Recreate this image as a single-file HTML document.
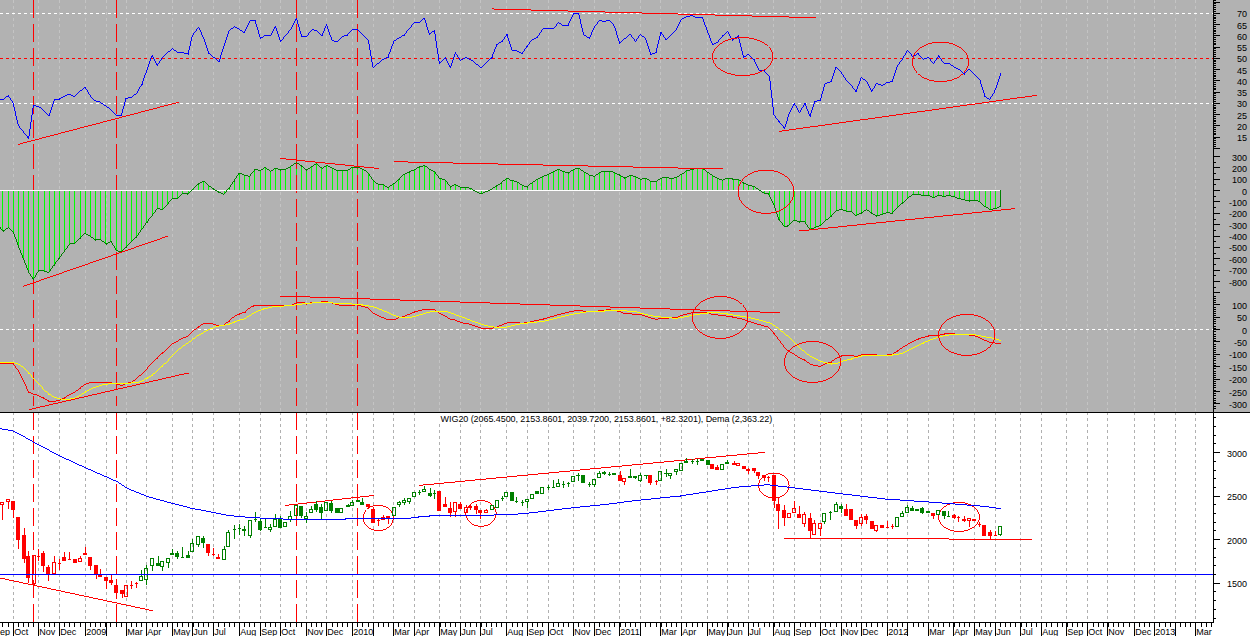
<!DOCTYPE html><html><head><meta charset="utf-8"><title>chart</title>
<style>html,body{margin:0;padding:0;background:#fff;overflow:hidden}svg{display:block}text{font-family:"Liberation Sans",sans-serif;font-size:9px;fill:#000}</style></head><body>
<svg width="1250" height="636" viewBox="0 0 1250 636" shape-rendering="crispEdges">
<rect x="0" y="0" width="1250" height="636" fill="#fff"/>
<rect x="0" y="0" width="1250" height="412" fill="#b2b2b2"/>
<g stroke="#c4c4c4" stroke-width="1" stroke-dasharray="3 3">
<line x1="13.5" y1="0" x2="13.5" y2="412"/>
<line x1="38.5" y1="0" x2="38.5" y2="412"/>
<line x1="59.5" y1="0" x2="59.5" y2="412"/>
<line x1="85.5" y1="0" x2="85.5" y2="412"/>
<line x1="106.5" y1="0" x2="106.5" y2="412"/>
<line x1="126.5" y1="0" x2="126.5" y2="412"/>
<line x1="146.5" y1="0" x2="146.5" y2="412"/>
<line x1="172.5" y1="0" x2="172.5" y2="412"/>
<line x1="192.5" y1="0" x2="192.5" y2="412"/>
<line x1="213.5" y1="0" x2="213.5" y2="412"/>
<line x1="239.5" y1="0" x2="239.5" y2="412"/>
<line x1="260.5" y1="0" x2="260.5" y2="412"/>
<line x1="280.5" y1="0" x2="280.5" y2="412"/>
<line x1="306.5" y1="0" x2="306.5" y2="412"/>
<line x1="326.5" y1="0" x2="326.5" y2="412"/>
<line x1="352.5" y1="0" x2="352.5" y2="412"/>
<line x1="373.5" y1="0" x2="373.5" y2="412"/>
<line x1="393.5" y1="0" x2="393.5" y2="412"/>
<line x1="414.5" y1="0" x2="414.5" y2="412"/>
<line x1="439.5" y1="0" x2="439.5" y2="412"/>
<line x1="460.5" y1="0" x2="460.5" y2="412"/>
<line x1="480.5" y1="0" x2="480.5" y2="412"/>
<line x1="506.5" y1="0" x2="506.5" y2="412"/>
<line x1="527.5" y1="0" x2="527.5" y2="412"/>
<line x1="548.5" y1="0" x2="548.5" y2="412"/>
<line x1="573.5" y1="0" x2="573.5" y2="412"/>
<line x1="594.5" y1="0" x2="594.5" y2="412"/>
<line x1="619.5" y1="0" x2="619.5" y2="412"/>
<line x1="640.5" y1="0" x2="640.5" y2="412"/>
<line x1="660.5" y1="0" x2="660.5" y2="412"/>
<line x1="681.5" y1="0" x2="681.5" y2="412"/>
<line x1="707.5" y1="0" x2="707.5" y2="412"/>
<line x1="727.5" y1="0" x2="727.5" y2="412"/>
<line x1="748.5" y1="0" x2="748.5" y2="412"/>
<line x1="773.5" y1="0" x2="773.5" y2="412"/>
<line x1="794.5" y1="0" x2="794.5" y2="412"/>
<line x1="820.5" y1="0" x2="820.5" y2="412"/>
<line x1="841.5" y1="0" x2="841.5" y2="412"/>
<line x1="861.5" y1="0" x2="861.5" y2="412"/>
<line x1="887.5" y1="0" x2="887.5" y2="412"/>
<line x1="907.5" y1="0" x2="907.5" y2="412"/>
<line x1="928.5" y1="0" x2="928.5" y2="412"/>
<line x1="953.5" y1="0" x2="953.5" y2="412"/>
<line x1="974.5" y1="0" x2="974.5" y2="412"/>
<line x1="995.5" y1="0" x2="995.5" y2="412"/>
<line x1="1020.5" y1="0" x2="1020.5" y2="412"/>
<line x1="1041.5" y1="0" x2="1041.5" y2="412"/>
<line x1="1066.5" y1="0" x2="1066.5" y2="412"/>
<line x1="1087.5" y1="0" x2="1087.5" y2="412"/>
<line x1="1107.5" y1="0" x2="1107.5" y2="412"/>
<line x1="1134.5" y1="0" x2="1134.5" y2="412"/>
<line x1="1154.5" y1="0" x2="1154.5" y2="412"/>
<line x1="1175.5" y1="0" x2="1175.5" y2="412"/>
<line x1="1195.5" y1="0" x2="1195.5" y2="412"/>
</g>
<g stroke="#b0b0b0" stroke-width="1" stroke-dasharray="3 3">
<line x1="13.5" y1="412" x2="13.5" y2="622"/>
<line x1="38.5" y1="412" x2="38.5" y2="622"/>
<line x1="59.5" y1="412" x2="59.5" y2="622"/>
<line x1="85.5" y1="412" x2="85.5" y2="622"/>
<line x1="106.5" y1="412" x2="106.5" y2="622"/>
<line x1="126.5" y1="412" x2="126.5" y2="622"/>
<line x1="146.5" y1="412" x2="146.5" y2="622"/>
<line x1="172.5" y1="412" x2="172.5" y2="622"/>
<line x1="192.5" y1="412" x2="192.5" y2="622"/>
<line x1="213.5" y1="412" x2="213.5" y2="622"/>
<line x1="239.5" y1="412" x2="239.5" y2="622"/>
<line x1="260.5" y1="412" x2="260.5" y2="622"/>
<line x1="280.5" y1="412" x2="280.5" y2="622"/>
<line x1="306.5" y1="412" x2="306.5" y2="622"/>
<line x1="326.5" y1="412" x2="326.5" y2="622"/>
<line x1="352.5" y1="412" x2="352.5" y2="622"/>
<line x1="373.5" y1="412" x2="373.5" y2="622"/>
<line x1="393.5" y1="412" x2="393.5" y2="622"/>
<line x1="414.5" y1="412" x2="414.5" y2="622"/>
<line x1="439.5" y1="412" x2="439.5" y2="622"/>
<line x1="460.5" y1="412" x2="460.5" y2="622"/>
<line x1="480.5" y1="412" x2="480.5" y2="622"/>
<line x1="506.5" y1="412" x2="506.5" y2="622"/>
<line x1="527.5" y1="412" x2="527.5" y2="622"/>
<line x1="548.5" y1="412" x2="548.5" y2="622"/>
<line x1="573.5" y1="412" x2="573.5" y2="622"/>
<line x1="594.5" y1="412" x2="594.5" y2="622"/>
<line x1="619.5" y1="412" x2="619.5" y2="622"/>
<line x1="640.5" y1="412" x2="640.5" y2="622"/>
<line x1="660.5" y1="412" x2="660.5" y2="622"/>
<line x1="681.5" y1="412" x2="681.5" y2="622"/>
<line x1="707.5" y1="412" x2="707.5" y2="622"/>
<line x1="727.5" y1="412" x2="727.5" y2="622"/>
<line x1="748.5" y1="412" x2="748.5" y2="622"/>
<line x1="773.5" y1="412" x2="773.5" y2="622"/>
<line x1="794.5" y1="412" x2="794.5" y2="622"/>
<line x1="820.5" y1="412" x2="820.5" y2="622"/>
<line x1="841.5" y1="412" x2="841.5" y2="622"/>
<line x1="861.5" y1="412" x2="861.5" y2="622"/>
<line x1="887.5" y1="412" x2="887.5" y2="622"/>
<line x1="907.5" y1="412" x2="907.5" y2="622"/>
<line x1="928.5" y1="412" x2="928.5" y2="622"/>
<line x1="953.5" y1="412" x2="953.5" y2="622"/>
<line x1="974.5" y1="412" x2="974.5" y2="622"/>
<line x1="995.5" y1="412" x2="995.5" y2="622"/>
<line x1="1020.5" y1="412" x2="1020.5" y2="622"/>
<line x1="1041.5" y1="412" x2="1041.5" y2="622"/>
<line x1="1066.5" y1="412" x2="1066.5" y2="622"/>
<line x1="1087.5" y1="412" x2="1087.5" y2="622"/>
<line x1="1107.5" y1="412" x2="1107.5" y2="622"/>
<line x1="1134.5" y1="412" x2="1134.5" y2="622"/>
<line x1="1154.5" y1="412" x2="1154.5" y2="622"/>
<line x1="1175.5" y1="412" x2="1175.5" y2="622"/>
<line x1="1195.5" y1="412" x2="1195.5" y2="622"/>
</g>
<line x1="0" y1="13.5" x2="1213" y2="13.5" stroke="#fff" stroke-width="1" stroke-dasharray="3 3"/>
<line x1="0" y1="58.5" x2="1213" y2="58.5" stroke="#ff0000" stroke-width="1" stroke-dasharray="3 3"/>
<line x1="0" y1="103.5" x2="1213" y2="103.5" stroke="#fff" stroke-width="1" stroke-dasharray="3 3"/>
<line x1="0" y1="329.5" x2="1213" y2="329.5" stroke="#fff" stroke-width="1" stroke-dasharray="3 3"/>
<g stroke="#ff0000" stroke-width="1">
<line x1="33.5" y1="0" x2="33.5" y2="18"/>
<line x1="33.5" y1="24" x2="33.5" y2="42"/>
<line x1="33.5" y1="48" x2="33.5" y2="66"/>
<line x1="33.5" y1="72" x2="33.5" y2="90"/>
<line x1="33.5" y1="96" x2="33.5" y2="114"/>
<line x1="33.5" y1="120" x2="33.5" y2="138"/>
<line x1="33.5" y1="144" x2="33.5" y2="151"/>
<line x1="33.5" y1="151" x2="33.5" y2="169"/>
<line x1="33.5" y1="175" x2="33.5" y2="190"/>
<line x1="33.5" y1="190" x2="33.5" y2="198"/>
<line x1="33.5" y1="204" x2="33.5" y2="222"/>
<line x1="33.5" y1="228" x2="33.5" y2="246"/>
<line x1="33.5" y1="252" x2="33.5" y2="270"/>
<line x1="33.5" y1="276" x2="33.5" y2="294"/>
<line x1="33.5" y1="300" x2="33.5" y2="318"/>
<line x1="33.5" y1="324" x2="33.5" y2="342"/>
<line x1="33.5" y1="348" x2="33.5" y2="366"/>
<line x1="33.5" y1="372" x2="33.5" y2="390"/>
<line x1="33.5" y1="396" x2="33.5" y2="406"/>
<line x1="33.5" y1="413" x2="33.5" y2="430"/>
<line x1="33.5" y1="436" x2="33.5" y2="454"/>
<line x1="33.5" y1="460" x2="33.5" y2="478"/>
<line x1="33.5" y1="484" x2="33.5" y2="502"/>
<line x1="33.5" y1="508" x2="33.5" y2="526"/>
<line x1="33.5" y1="532" x2="33.5" y2="550"/>
<line x1="33.5" y1="556" x2="33.5" y2="574"/>
<line x1="33.5" y1="580" x2="33.5" y2="598"/>
<line x1="33.5" y1="604" x2="33.5" y2="622"/>
</g>
<g stroke="#ff0000" stroke-width="1">
<line x1="116.5" y1="0" x2="116.5" y2="18"/>
<line x1="116.5" y1="24" x2="116.5" y2="42"/>
<line x1="116.5" y1="48" x2="116.5" y2="66"/>
<line x1="116.5" y1="72" x2="116.5" y2="90"/>
<line x1="116.5" y1="96" x2="116.5" y2="114"/>
<line x1="116.5" y1="120" x2="116.5" y2="138"/>
<line x1="116.5" y1="144" x2="116.5" y2="151"/>
<line x1="116.5" y1="151" x2="116.5" y2="169"/>
<line x1="116.5" y1="175" x2="116.5" y2="190"/>
<line x1="116.5" y1="190" x2="116.5" y2="198"/>
<line x1="116.5" y1="204" x2="116.5" y2="222"/>
<line x1="116.5" y1="228" x2="116.5" y2="246"/>
<line x1="116.5" y1="252" x2="116.5" y2="270"/>
<line x1="116.5" y1="276" x2="116.5" y2="294"/>
<line x1="116.5" y1="300" x2="116.5" y2="318"/>
<line x1="116.5" y1="324" x2="116.5" y2="342"/>
<line x1="116.5" y1="348" x2="116.5" y2="366"/>
<line x1="116.5" y1="372" x2="116.5" y2="390"/>
<line x1="116.5" y1="396" x2="116.5" y2="406"/>
<line x1="116.5" y1="413" x2="116.5" y2="430"/>
<line x1="116.5" y1="436" x2="116.5" y2="454"/>
<line x1="116.5" y1="460" x2="116.5" y2="478"/>
<line x1="116.5" y1="484" x2="116.5" y2="502"/>
<line x1="116.5" y1="508" x2="116.5" y2="526"/>
<line x1="116.5" y1="532" x2="116.5" y2="550"/>
<line x1="116.5" y1="556" x2="116.5" y2="574"/>
<line x1="116.5" y1="580" x2="116.5" y2="598"/>
<line x1="116.5" y1="604" x2="116.5" y2="622"/>
</g>
<g stroke="#00ff00" stroke-width="1">
<line x1="2.5" y1="190.5" x2="2.5" y2="231.0"/>
<line x1="8.5" y1="190.5" x2="8.5" y2="227.8"/>
<line x1="13.5" y1="190.5" x2="13.5" y2="232.3"/>
<line x1="18.5" y1="190.5" x2="18.5" y2="246.1"/>
<line x1="23.5" y1="190.5" x2="23.5" y2="259.4"/>
<line x1="28.5" y1="190.5" x2="28.5" y2="272.2"/>
<line x1="33.5" y1="190.5" x2="33.5" y2="278.6"/>
<line x1="38.5" y1="190.5" x2="38.5" y2="270.8"/>
<line x1="44.5" y1="190.5" x2="44.5" y2="271.0"/>
<line x1="49.5" y1="190.5" x2="49.5" y2="271.7"/>
<line x1="54.5" y1="190.5" x2="54.5" y2="264.4"/>
<line x1="59.5" y1="190.5" x2="59.5" y2="257.5"/>
<line x1="64.5" y1="190.5" x2="64.5" y2="250.6"/>
<line x1="69.5" y1="190.5" x2="69.5" y2="244.0"/>
<line x1="74.5" y1="190.5" x2="74.5" y2="242.7"/>
<line x1="80.5" y1="190.5" x2="80.5" y2="238.3"/>
<line x1="85.5" y1="190.5" x2="85.5" y2="233.6"/>
<line x1="90.5" y1="190.5" x2="90.5" y2="236.4"/>
<line x1="95.5" y1="190.5" x2="95.5" y2="240.0"/>
<line x1="100.5" y1="190.5" x2="100.5" y2="239.5"/>
<line x1="105.5" y1="190.5" x2="105.5" y2="243.9"/>
<line x1="110.5" y1="190.5" x2="110.5" y2="241.4"/>
<line x1="116.5" y1="190.5" x2="116.5" y2="249.9"/>
<line x1="121.5" y1="190.5" x2="121.5" y2="252.0"/>
<line x1="126.5" y1="190.5" x2="126.5" y2="247.0"/>
<line x1="131.5" y1="190.5" x2="131.5" y2="241.1"/>
<line x1="136.5" y1="190.5" x2="136.5" y2="236.9"/>
<line x1="141.5" y1="190.5" x2="141.5" y2="229.3"/>
<line x1="146.5" y1="190.5" x2="146.5" y2="222.0"/>
<line x1="152.5" y1="190.5" x2="152.5" y2="215.4"/>
<line x1="157.5" y1="190.5" x2="157.5" y2="208.8"/>
<line x1="162.5" y1="190.5" x2="162.5" y2="209.4"/>
<line x1="167.5" y1="190.5" x2="167.5" y2="204.1"/>
<line x1="172.5" y1="190.5" x2="172.5" y2="198.6"/>
<line x1="177.5" y1="190.5" x2="177.5" y2="197.8"/>
<line x1="182.5" y1="190.5" x2="182.5" y2="193.6"/>
<line x1="188.5" y1="190.5" x2="188.5" y2="193.5"/>
<line x1="193.5" y1="190.5" x2="193.5" y2="188.4"/>
<line x1="198.5" y1="190.5" x2="198.5" y2="183.8"/>
<line x1="203.5" y1="190.5" x2="203.5" y2="181.1"/>
<line x1="208.5" y1="190.5" x2="208.5" y2="185.5"/>
<line x1="213.5" y1="190.5" x2="213.5" y2="189.1"/>
<line x1="218.5" y1="190.5" x2="218.5" y2="192.2"/>
<line x1="224.5" y1="190.5" x2="224.5" y2="193.8"/>
<line x1="229.5" y1="190.5" x2="229.5" y2="187.7"/>
<line x1="234.5" y1="190.5" x2="234.5" y2="180.4"/>
<line x1="239.5" y1="190.5" x2="239.5" y2="173.1"/>
<line x1="244.5" y1="190.5" x2="244.5" y2="175.1"/>
<line x1="249.5" y1="190.5" x2="249.5" y2="175.9"/>
<line x1="254.5" y1="190.5" x2="254.5" y2="169.5"/>
<line x1="260.5" y1="190.5" x2="260.5" y2="170.5"/>
<line x1="265.5" y1="190.5" x2="265.5" y2="167.5"/>
<line x1="270.5" y1="190.5" x2="270.5" y2="171.4"/>
<line x1="275.5" y1="190.5" x2="275.5" y2="168.0"/>
<line x1="280.5" y1="190.5" x2="280.5" y2="170.0"/>
<line x1="285.5" y1="190.5" x2="285.5" y2="169.3"/>
<line x1="290.5" y1="190.5" x2="290.5" y2="166.2"/>
<line x1="296.5" y1="190.5" x2="296.5" y2="162.8"/>
<line x1="301.5" y1="190.5" x2="301.5" y2="165.8"/>
<line x1="306.5" y1="190.5" x2="306.5" y2="169.8"/>
<line x1="311.5" y1="190.5" x2="311.5" y2="166.9"/>
<line x1="316.5" y1="190.5" x2="316.5" y2="163.7"/>
<line x1="321.5" y1="190.5" x2="321.5" y2="168.2"/>
<line x1="326.5" y1="190.5" x2="326.5" y2="165.6"/>
<line x1="332.5" y1="190.5" x2="332.5" y2="168.0"/>
<line x1="337.5" y1="190.5" x2="337.5" y2="170.4"/>
<line x1="342.5" y1="190.5" x2="342.5" y2="170.4"/>
<line x1="347.5" y1="190.5" x2="347.5" y2="170.1"/>
<line x1="352.5" y1="190.5" x2="352.5" y2="167.4"/>
<line x1="357.5" y1="190.5" x2="357.5" y2="167.2"/>
<line x1="362.5" y1="190.5" x2="362.5" y2="169.6"/>
<line x1="368.5" y1="190.5" x2="368.5" y2="173.0"/>
<line x1="373.5" y1="190.5" x2="373.5" y2="180.2"/>
<line x1="378.5" y1="190.5" x2="378.5" y2="184.4"/>
<line x1="383.5" y1="190.5" x2="383.5" y2="184.7"/>
<line x1="388.5" y1="190.5" x2="388.5" y2="187.2"/>
<line x1="393.5" y1="190.5" x2="393.5" y2="183.7"/>
<line x1="398.5" y1="190.5" x2="398.5" y2="179.1"/>
<line x1="404.5" y1="190.5" x2="404.5" y2="174.4"/>
<line x1="409.5" y1="190.5" x2="409.5" y2="171.9"/>
<line x1="414.5" y1="190.5" x2="414.5" y2="169.6"/>
<line x1="419.5" y1="190.5" x2="419.5" y2="167.0"/>
<line x1="424.5" y1="190.5" x2="424.5" y2="165.6"/>
<line x1="429.5" y1="190.5" x2="429.5" y2="169.2"/>
<line x1="434.5" y1="190.5" x2="434.5" y2="172.3"/>
<line x1="440.5" y1="190.5" x2="440.5" y2="178.6"/>
<line x1="445.5" y1="190.5" x2="445.5" y2="179.9"/>
<line x1="450.5" y1="190.5" x2="450.5" y2="186.9"/>
<line x1="455.5" y1="190.5" x2="455.5" y2="184.5"/>
<line x1="460.5" y1="190.5" x2="460.5" y2="187.4"/>
<line x1="465.5" y1="190.5" x2="465.5" y2="187.4"/>
<line x1="470.5" y1="190.5" x2="470.5" y2="188.6"/>
<line x1="481.5" y1="190.5" x2="481.5" y2="193.5"/>
<line x1="491.5" y1="190.5" x2="491.5" y2="189.2"/>
<line x1="496.5" y1="190.5" x2="496.5" y2="185.6"/>
<line x1="501.5" y1="190.5" x2="501.5" y2="182.6"/>
<line x1="506.5" y1="190.5" x2="506.5" y2="178.2"/>
<line x1="512.5" y1="190.5" x2="512.5" y2="180.7"/>
<line x1="517.5" y1="190.5" x2="517.5" y2="182.0"/>
<line x1="522.5" y1="190.5" x2="522.5" y2="185.1"/>
<line x1="527.5" y1="190.5" x2="527.5" y2="186.6"/>
<line x1="532.5" y1="190.5" x2="532.5" y2="182.2"/>
<line x1="537.5" y1="190.5" x2="537.5" y2="179.2"/>
<line x1="542.5" y1="190.5" x2="542.5" y2="176.6"/>
<line x1="548.5" y1="190.5" x2="548.5" y2="174.5"/>
<line x1="553.5" y1="190.5" x2="553.5" y2="171.6"/>
<line x1="558.5" y1="190.5" x2="558.5" y2="169.7"/>
<line x1="563.5" y1="190.5" x2="563.5" y2="171.6"/>
<line x1="568.5" y1="190.5" x2="568.5" y2="172.6"/>
<line x1="573.5" y1="190.5" x2="573.5" y2="169.5"/>
<line x1="578.5" y1="190.5" x2="578.5" y2="168.2"/>
<line x1="584.5" y1="190.5" x2="584.5" y2="171.9"/>
<line x1="589.5" y1="190.5" x2="589.5" y2="174.9"/>
<line x1="594.5" y1="190.5" x2="594.5" y2="176.4"/>
<line x1="599.5" y1="190.5" x2="599.5" y2="172.6"/>
<line x1="604.5" y1="190.5" x2="604.5" y2="171.0"/>
<line x1="609.5" y1="190.5" x2="609.5" y2="171.1"/>
<line x1="614.5" y1="190.5" x2="614.5" y2="172.8"/>
<line x1="620.5" y1="190.5" x2="620.5" y2="175.3"/>
<line x1="625.5" y1="190.5" x2="625.5" y2="177.7"/>
<line x1="630.5" y1="190.5" x2="630.5" y2="175.5"/>
<line x1="635.5" y1="190.5" x2="635.5" y2="176.6"/>
<line x1="640.5" y1="190.5" x2="640.5" y2="179.3"/>
<line x1="645.5" y1="190.5" x2="645.5" y2="178.1"/>
<line x1="650.5" y1="190.5" x2="650.5" y2="181.3"/>
<line x1="656.5" y1="190.5" x2="656.5" y2="181.4"/>
<line x1="661.5" y1="190.5" x2="661.5" y2="178.4"/>
<line x1="666.5" y1="190.5" x2="666.5" y2="177.1"/>
<line x1="671.5" y1="190.5" x2="671.5" y2="178.5"/>
<line x1="676.5" y1="190.5" x2="676.5" y2="177.1"/>
<line x1="681.5" y1="190.5" x2="681.5" y2="174.3"/>
<line x1="686.5" y1="190.5" x2="686.5" y2="170.7"/>
<line x1="692.5" y1="190.5" x2="692.5" y2="169.4"/>
<line x1="697.5" y1="190.5" x2="697.5" y2="168.4"/>
<line x1="702.5" y1="190.5" x2="702.5" y2="168.4"/>
<line x1="707.5" y1="190.5" x2="707.5" y2="172.0"/>
<line x1="712.5" y1="190.5" x2="712.5" y2="175.7"/>
<line x1="717.5" y1="190.5" x2="717.5" y2="178.2"/>
<line x1="722.5" y1="190.5" x2="722.5" y2="180.2"/>
<line x1="728.5" y1="190.5" x2="728.5" y2="178.1"/>
<line x1="733.5" y1="190.5" x2="733.5" y2="179.0"/>
<line x1="738.5" y1="190.5" x2="738.5" y2="179.4"/>
<line x1="743.5" y1="190.5" x2="743.5" y2="182.9"/>
<line x1="748.5" y1="190.5" x2="748.5" y2="185.1"/>
<line x1="753.5" y1="190.5" x2="753.5" y2="186.5"/>
<line x1="764.5" y1="190.5" x2="764.5" y2="193.0"/>
<line x1="769.5" y1="190.5" x2="769.5" y2="195.3"/>
<line x1="774.5" y1="190.5" x2="774.5" y2="205.9"/>
<line x1="779.5" y1="190.5" x2="779.5" y2="220.2"/>
<line x1="784.5" y1="190.5" x2="784.5" y2="226.0"/>
<line x1="789.5" y1="190.5" x2="789.5" y2="224.0"/>
<line x1="794.5" y1="190.5" x2="794.5" y2="220.2"/>
<line x1="800.5" y1="190.5" x2="800.5" y2="221.9"/>
<line x1="805.5" y1="190.5" x2="805.5" y2="222.2"/>
<line x1="810.5" y1="190.5" x2="810.5" y2="229.5"/>
<line x1="815.5" y1="190.5" x2="815.5" y2="227.2"/>
<line x1="820.5" y1="190.5" x2="820.5" y2="225.2"/>
<line x1="825.5" y1="190.5" x2="825.5" y2="220.5"/>
<line x1="830.5" y1="190.5" x2="830.5" y2="216.7"/>
<line x1="836.5" y1="190.5" x2="836.5" y2="210.6"/>
<line x1="841.5" y1="190.5" x2="841.5" y2="209.4"/>
<line x1="846.5" y1="190.5" x2="846.5" y2="211.0"/>
<line x1="851.5" y1="190.5" x2="851.5" y2="211.9"/>
<line x1="856.5" y1="190.5" x2="856.5" y2="215.1"/>
<line x1="861.5" y1="190.5" x2="861.5" y2="212.8"/>
<line x1="866.5" y1="190.5" x2="866.5" y2="209.8"/>
<line x1="871.5" y1="190.5" x2="871.5" y2="213.2"/>
<line x1="877.5" y1="190.5" x2="877.5" y2="215.8"/>
<line x1="882.5" y1="190.5" x2="882.5" y2="214.3"/>
<line x1="887.5" y1="190.5" x2="887.5" y2="212.4"/>
<line x1="892.5" y1="190.5" x2="892.5" y2="212.8"/>
<line x1="897.5" y1="190.5" x2="897.5" y2="207.3"/>
<line x1="902.5" y1="190.5" x2="902.5" y2="202.6"/>
<line x1="907.5" y1="190.5" x2="907.5" y2="198.1"/>
<line x1="913.5" y1="190.5" x2="913.5" y2="194.6"/>
<line x1="918.5" y1="190.5" x2="918.5" y2="194.5"/>
<line x1="923.5" y1="190.5" x2="923.5" y2="195.4"/>
<line x1="928.5" y1="190.5" x2="928.5" y2="195.7"/>
<line x1="933.5" y1="190.5" x2="933.5" y2="197.4"/>
<line x1="938.5" y1="190.5" x2="938.5" y2="195.4"/>
<line x1="943.5" y1="190.5" x2="943.5" y2="196.4"/>
<line x1="949.5" y1="190.5" x2="949.5" y2="195.4"/>
<line x1="954.5" y1="190.5" x2="954.5" y2="196.7"/>
<line x1="959.5" y1="190.5" x2="959.5" y2="198.7"/>
<line x1="964.5" y1="190.5" x2="964.5" y2="199.8"/>
<line x1="969.5" y1="190.5" x2="969.5" y2="200.9"/>
<line x1="974.5" y1="190.5" x2="974.5" y2="200.1"/>
<line x1="979.5" y1="190.5" x2="979.5" y2="201.9"/>
<line x1="985.5" y1="190.5" x2="985.5" y2="206.5"/>
<line x1="990.5" y1="190.5" x2="990.5" y2="209.6"/>
<line x1="995.5" y1="190.5" x2="995.5" y2="208.6"/>
<line x1="1000.5" y1="190.5" x2="1000.5" y2="206.0"/>
</g>
<g stroke="#ff0000" stroke-width="1">
<line x1="296.5" y1="0" x2="296.5" y2="18"/>
<line x1="296.5" y1="24" x2="296.5" y2="42"/>
<line x1="296.5" y1="48" x2="296.5" y2="66"/>
<line x1="296.5" y1="72" x2="296.5" y2="90"/>
<line x1="296.5" y1="96" x2="296.5" y2="114"/>
<line x1="296.5" y1="120" x2="296.5" y2="138"/>
<line x1="296.5" y1="144" x2="296.5" y2="151"/>
<line x1="296.5" y1="151" x2="296.5" y2="169"/>
<line x1="296.5" y1="175" x2="296.5" y2="193"/>
<line x1="296.5" y1="199" x2="296.5" y2="217"/>
<line x1="296.5" y1="223" x2="296.5" y2="241"/>
<line x1="296.5" y1="247" x2="296.5" y2="265"/>
<line x1="296.5" y1="271" x2="296.5" y2="289"/>
<line x1="296.5" y1="292" x2="296.5" y2="310"/>
<line x1="296.5" y1="316" x2="296.5" y2="334"/>
<line x1="296.5" y1="340" x2="296.5" y2="358"/>
<line x1="296.5" y1="364" x2="296.5" y2="382"/>
<line x1="296.5" y1="388" x2="296.5" y2="406"/>
<line x1="296.5" y1="413" x2="296.5" y2="430"/>
<line x1="296.5" y1="436" x2="296.5" y2="454"/>
<line x1="296.5" y1="460" x2="296.5" y2="478"/>
<line x1="296.5" y1="484" x2="296.5" y2="502"/>
<line x1="296.5" y1="508" x2="296.5" y2="526"/>
<line x1="296.5" y1="532" x2="296.5" y2="550"/>
<line x1="296.5" y1="556" x2="296.5" y2="574"/>
<line x1="296.5" y1="580" x2="296.5" y2="598"/>
<line x1="296.5" y1="604" x2="296.5" y2="622"/>
</g>
<g stroke="#ff0000" stroke-width="1">
<line x1="357.5" y1="0" x2="357.5" y2="18"/>
<line x1="357.5" y1="24" x2="357.5" y2="42"/>
<line x1="357.5" y1="48" x2="357.5" y2="66"/>
<line x1="357.5" y1="72" x2="357.5" y2="90"/>
<line x1="357.5" y1="96" x2="357.5" y2="114"/>
<line x1="357.5" y1="120" x2="357.5" y2="138"/>
<line x1="357.5" y1="144" x2="357.5" y2="151"/>
<line x1="357.5" y1="151" x2="357.5" y2="169"/>
<line x1="357.5" y1="175" x2="357.5" y2="193"/>
<line x1="357.5" y1="199" x2="357.5" y2="217"/>
<line x1="357.5" y1="223" x2="357.5" y2="241"/>
<line x1="357.5" y1="247" x2="357.5" y2="265"/>
<line x1="357.5" y1="271" x2="357.5" y2="289"/>
<line x1="357.5" y1="292" x2="357.5" y2="310"/>
<line x1="357.5" y1="316" x2="357.5" y2="334"/>
<line x1="357.5" y1="340" x2="357.5" y2="358"/>
<line x1="357.5" y1="364" x2="357.5" y2="382"/>
<line x1="357.5" y1="388" x2="357.5" y2="406"/>
<line x1="357.5" y1="413" x2="357.5" y2="430"/>
<line x1="357.5" y1="436" x2="357.5" y2="454"/>
<line x1="357.5" y1="460" x2="357.5" y2="478"/>
<line x1="357.5" y1="484" x2="357.5" y2="502"/>
<line x1="357.5" y1="508" x2="357.5" y2="526"/>
<line x1="357.5" y1="532" x2="357.5" y2="550"/>
<line x1="357.5" y1="556" x2="357.5" y2="574"/>
<line x1="357.5" y1="580" x2="357.5" y2="598"/>
<line x1="357.5" y1="604" x2="357.5" y2="622"/>
</g>
<line x1="0" y1="190.5" x2="1001" y2="190.5" stroke="#fff" stroke-width="1"/>
<path fill="none" stroke="#008000" stroke-width="1" d="M965 200.5h13M909 196.5h2M930 196.5h2M935 196.5h2M942 196.5h4M951 196.5h4M146 222.5h2M901 203.5h2M264 167.5h2M288 167.5h2M320 167.5h2M330 167.5h2M351 167.5h9M417 167.5h3M38 270.5h6M217 191.5h2M475 191.5h2M485 191.5h3M387 187.5h2M460 187.5h9M493 187.5h2M503 180.5h2M510 180.5h4M739 180.5h2M921 195.5h9M937 195.5h5M946 195.5h5M125 247.5h2M398 179.5h2M442 179.5h3M536 179.5h2M640 179.5h2M647 179.5h2M658 179.5h2M719 179.5h3M723 179.5h2M732 179.5h7M238 173.5h4M405 173.5h2M549 173.5h2M586 173.5h2M615 173.5h2M682 173.5h2M202 181.5h3M233 181.5h2M514 181.5h3M533 181.5h2M650 181.5h7M157 208.5h3M993 208.5h4M218 192.5h3M477 192.5h2M483 192.5h2M762 192.5h2M197 184.5h2M378 184.5h6M454 184.5h2M498 184.5h2M520 184.5h2M746 184.5h2M116 250.5h2M540 177.5h2M623 177.5h4M636 177.5h2M662 177.5h7M674 177.5h3M715 177.5h2M254 169.5h4M261 169.5h2M267 169.5h2M278 169.5h8M305 169.5h3M334 169.5h2M348 169.5h2M362 169.5h2M414 169.5h2M429 169.5h2M557 169.5h3M573 169.5h2M690 169.5h4M703 169.5h2M861 212.5h2M870 212.5h2M886 212.5h4M932 197.5h3M955 197.5h2M198 183.5h2M376 183.5h2M393 183.5h2M500 183.5h2M530 183.5h2M743 183.5h3M258 170.5h3M271 170.5h2M336 170.5h12M364 170.5h2M411 170.5h3M431 170.5h2M555 170.5h2M560 170.5h2M571 170.5h2M581 170.5h2M686 170.5h4M209 186.5h2M385 186.5h2M450 186.5h2M458 186.5h2M495 186.5h2M524 186.5h4M752 186.5h3M439 178.5h3M506 178.5h3M538 178.5h2M638 178.5h2M642 178.5h5M660 178.5h2M669 178.5h5M717 178.5h2M725 178.5h8M70 243.5h5M105 243.5h3M274 168.5h4M286 168.5h2M308 168.5h2M332 168.5h2M360 168.5h2M575 168.5h5M694 168.5h9M94 239.5h7M102 241.5h2M110 241.5h2M6 228.5h2M811 228.5h3M242 174.5h2M403 174.5h2M547 174.5h2M596 174.5h2M617 174.5h3M680 174.5h2M710 174.5h2M407 172.5h3M551 172.5h2M565 172.5h5M584 172.5h2M599 172.5h2M613 172.5h2M707 172.5h2M291 165.5h2M300 165.5h2M326 165.5h2M423 165.5h2M212 188.5h2M228 188.5h2M469 188.5h3M756 188.5h2M244 175.5h4M544 175.5h3M589 175.5h4M619 175.5h2M629 175.5h4M409 171.5h2M433 171.5h2M553 171.5h2M562 171.5h3M601 171.5h12M984 206.5h2M999 206.5h2M200 182.5h2M517 182.5h2M742 182.5h2M182 193.5h7M221 193.5h2M479 193.5h4M764 193.5h5M855 215.5h2M875 215.5h5M301 166.5h2M311 166.5h2M324 166.5h2M328 166.5h2M419 166.5h4M425 166.5h2M248 176.5h2M542 176.5h2M593 176.5h2M621 176.5h2M627 176.5h2M633 176.5h3M677 176.5h2M713 176.5h2M986 207.5h2M997 207.5h2M44 271.5h3M784 226.5h4M816 226.5h3M160 209.5h3M839 209.5h4M989 209.5h4M809 229.5h2M390 185.5h2M452 185.5h2M456 185.5h2M496 185.5h2M522 185.5h2M748 185.5h4M172 198.5h6M957 198.5h4M978 201.5h2M912 194.5h9M79 238.5h2M294 163.5h2M297 163.5h2M961 199.5h4M793 220.5h4M836 210.5h3M843 210.5h3M864 210.5h2M867 210.5h2M2 230.5h3M215 190.5h2M473 190.5h2M488 190.5h2M759 190.5h2M47 272.5h2M314 164.5h2M846 211.5h6M902 202.5h2M787 225.5h2M819 225.5h2M857 214.5h2M873 214.5h2M880 214.5h3M814 227.5h2M859 213.5h3M871 213.5h2M883 213.5h3M890 213.5h3M797 221.5h8M108 242.5h2M118 251.5h4M32 278.5h2M213 189.5h2M490 189.5h2M86 234.5h2M778 219.5h2M826 219.5h2M88 235.5h2M58 258.5h2M830 216.5h2M91 237.5h2M135 237.5h2M84 233.5h2M53 265.5h2M823.5 222v1M773.5 203v2M450.5 187v1M27.5 268v2M769.5 195v2M122.5 250v1M371.5 177v2M114.5 246v2M30.5 274v2M852.5 212v1M231.5 184v1M821.5 224v1M322.5 168v1M226.5 190v2M397.5 180v1M16.5 239v3M34.5 277v1M142.5 228v1M238.5 174v1M57.5 260v1M492.5 188v1M776.5 211v3M253.5 171v1M705.5 170v1M168.5 202v2M52.5 266v2M1.5 229v1M196.5 185v1M76.5 241v1M772.5 201v2M187.5 194v1M898.5 206v1M761.5 191v1M18.5 245v3M26.5 265v3M145.5 223v2M234.5 179v2M60.5 256v1M211.5 187v1M22.5 255v3M1000.5 190v16M583.5 171v1M280.5 170v1M799.5 222v1M37.5 272v1M317.5 164v1M568.5 173v1M0.5 227v2M180.5 195v1M29.5 273v1M318.5 165v1M598.5 173v1M768.5 194v1M148.5 219v2M33.5 279v1M863.5 211v1M129.5 243v1M374.5 181v1M832.5 214v1M981.5 203v1M68.5 245v1M63.5 252v1M8.5 227v1M825.5 220v1M191.5 190v1M775.5 208v3M401.5 176v1M171.5 199v1M893.5 211v1M95.5 240v1M206.5 183v1M373.5 180v1M121.5 252v1M28.5 270v3M502.5 181v1M156.5 209v1M83.5 234v1M136.5 236v1M139.5 232v1M163.5 208v1M225.5 192v1M51.5 268v1M854.5 214v1M969.5 201v1M779.5 220v1M384.5 185v1M237.5 175v1M722.5 180v1M15.5 237v2M293.5 164v1M805.5 222v2M900.5 204v1M21.5 253v2M124.5 248v1M205.5 182v1M904.5 201v1M392.5 184v1M32.5 277v1M17.5 242v3M313.5 165v1M396.5 181v1M90.5 236v1M36.5 273v2M350.5 168v1M252.5 172v1M570.5 171v1M54.5 264v1M509.5 179v1M789.5 224v1M250.5 174v2M14.5 234v3M78.5 239v1M529.5 184v1M270.5 171v1M911.5 195v1M657.5 180v1M131.5 241v1M101.5 240v1M263.5 168v1M774.5 205v3M104.5 242v1M319.5 166v1M147.5 221v1M895.5 209v1M778.5 217v2M869.5 211v1M649.5 180v1M983.5 205v1M167.5 204v1M170.5 200v1M807.5 225v2M706.5 171v1M20.5 250v3M10.5 229v1M808.5 227v1M193.5 188v1M165.5 206v1M834.5 212v1M35.5 275v2M303.5 167v1M304.5 168v1M50.5 269v2M588.5 174v1M62.5 253v1M266.5 168v1M126.5 246v1M982.5 204v1M679.5 175v1M24.5 260v3M9.5 228v1M899.5 205v1M323.5 167v1M155.5 210v2M138.5 233v2M758.5 189v1M435.5 172v2M150.5 217v1M153.5 213v1M65.5 249v1M436.5 174v1M791.5 222v1M227.5 189v1M208.5 185v1M375.5 182v1M80.5 237v1M535.5 180v1M580.5 169v1M777.5 214v3M829.5 217v1M299.5 164v1M822.5 223v1M5.5 229v1M207.5 184v1M230.5 185v2M501.5 182v1M61.5 254v2M19.5 248v2M254.5 170v1M106.5 244v1M416.5 168v1M447.5 182v2M56.5 261v1M181.5 194v1M906.5 199v1M780.5 221v1M712.5 175v1M77.5 240v1M595.5 175v1M133.5 239v1M806.5 224v1M64.5 250v2M897.5 207v1M833.5 213v1M141.5 229v1M144.5 225v1M367.5 172v1M306.5 170v1M25.5 263v2M310.5 167v1M195.5 186v1M152.5 214v2M783.5 225v1M179.5 196v1M164.5 207v1M366.5 171v1M472.5 189v1M11.5 230v1M75.5 242v1M137.5 235v1M809.5 228v1M685.5 171v1M236.5 176v2M445.5 180v1M128.5 244v1M988.5 208v1M3.5 231v1M894.5 210v1M446.5 181v1M438.5 176v2M866.5 209v1M624.5 178v1M59.5 257v1M427.5 167v1M824.5 221v1M782.5 223v2M400.5 177v1M892.5 212v1M389.5 186v1M828.5 218v1M67.5 246v2M140.5 230v2M229.5 187v1M55.5 262v2M290.5 166v1M82.5 235v1M908.5 197v1M790.5 223v1M369.5 174v2M190.5 191v1M224.5 193v1M831.5 215v1M370.5 176v1M905.5 200v1M449.5 185v1M132.5 240v1M113.5 245v1M123.5 249v1M143.5 226v2M232.5 182v2M395.5 182v1M741.5 181v1M437.5 175v1M771.5 199v2M448.5 184v1M112.5 243v2M115.5 248v2M528.5 185v1M781.5 222v1M194.5 187v1M980.5 202v1M151.5 216v1M532.5 182v1M896.5 208v1M755.5 187v1M58.5 259v1M684.5 172v1M505.5 179v1M316.5 163v1M402.5 175v1M127.5 245v1M770.5 197v2M876.5 216v1M111.5 242v1M251.5 173v1M166.5 205v1M835.5 211v1M296.5 162v1M273.5 169v1M178.5 197v1M93.5 238v1M23.5 258v2M130.5 242v1M13.5 232v2M66.5 248v1M235.5 178v1M907.5 198v1M38.5 271v1M49.5 271v1M368.5 173v1M189.5 192v1M399.5 178v1M169.5 201v1M372.5 179v1M31.5 276v1M428.5 168v1M853.5 213v1M154.5 212v1M69.5 244v1M792.5 221v1M81.5 236v1M192.5 189v1M149.5 218v1M12.5 231v1M223.5 194v1M269.5 170v1M527.5 187v1M519.5 183v1M709.5 173v1M134.5 238v1"/>
<path fill="none" stroke="#0000ff" stroke-width="1" d="M280 40.5h2M332 40.5h2M394 40.5h2M830 81.5h2M890 81.5h3M334 41.5h4M501 41.5h2M449 66.5h2M714 43.5h2M825 83.5h2M876 83.5h2M532 39.5h2M665 39.5h2M732 39.5h2M881 85.5h2M80 90.5h2M855 90.5h2M871 90.5h2M863 79.5h2M48 115.5h2M116 115.5h6M809 115.5h2M397 38.5h2M534 38.5h2M624 38.5h2M963 73.5h2M958 69.5h2M968 69.5h2M429 33.5h2M660 33.5h2M243 32.5h2M660 32.5h2M177 52.5h7M519 52.5h2M655 52.5h2M690 15.5h3M432 31.5h3M218 61.5h2M174 50.5h2M512 50.5h5M59 98.5h2M125 98.5h3M987 98.5h2M526 46.5h2M414 22.5h6M377 63.5h2M944 63.5h6M312 29.5h2M352 29.5h6M213 57.5h2M386 57.5h3M465 57.5h2M491 57.5h2M927 57.5h2M67 94.5h4M134 94.5h2M168 51.5h2M517 51.5h2M301 36.5h6M342 36.5h2M642 36.5h2M737 36.5h2M827 82.5h3M886 82.5h4M141 84.5h2M878 84.5h3M883 84.5h2M184 53.5h5M208 53.5h2M521 53.5h2M652 53.5h3M917 53.5h2M471 60.5h2M778 121.5h2M260 37.5h3M399 37.5h2M536 37.5h2M587 37.5h3M735 37.5h2M650 54.5h2M747 54.5h2M6 96.5h3M63 96.5h2M73 96.5h2M984 96.5h2M101 103.5h2M804 103.5h2M562 25.5h7M94 100.5h2M817 100.5h4M96 101.5h4M814 101.5h3M423 18.5h2M682 18.5h2M506 34.5h2M629 34.5h2M264 35.5h7M321 35.5h2M344 35.5h4M402 35.5h3M506 35.5h2M584 35.5h2M722 35.5h2M559 23.5h2M573 13.5h6M36 106.5h3M439 62.5h2M151 56.5h2M743 56.5h3M912 56.5h2M938 56.5h2M384 58.5h2M444 58.5h2M463 58.5h2M467 58.5h2M490 58.5h2M924 58.5h3M0 99.5h4M54 99.5h6M33 105.5h3M104 105.5h2M602 21.5h4M250 20.5h6M599 20.5h3M606 20.5h4M240 30.5h2M314 30.5h3M914 55.5h2M956 68.5h2M84 87.5h2M496 44.5h2M712 44.5h2M231 28.5h2M237 28.5h2M543 28.5h11M855 91.5h2M809 114.5h2M235 27.5h2M274 27.5h2M39 107.5h2M107 107.5h2M382 59.5h2M461 59.5h2M469 59.5h2M753 59.5h2M793 104.5h2M804 104.5h2M156 64.5h2M476 64.5h2M783 127.5h2M295 19.5h2M951 65.5h2M61 97.5h2M128 97.5h4M684 17.5h2M695 17.5h8M499 42.5h2M619 42.5h2M716 42.5h2M27 137.5h2M686 16.5h4M693 16.5h2M65 95.5h2M71 95.5h2M759 70.5h6M480 67.5h2M835 67.5h2M954 67.5h2M27 136.5h2M435.5 34v7M841.5 72v2M903.5 56v2M247.5 25v2M918.5 54v1M23.5 131v2M299.5 27v4M32.5 108v7M43.5 110v1M173.5 49v1M13.5 103v4M787.5 117v4M508.5 38v3M895.5 70v3M165.5 54v1M280.5 41v1M668.5 37v1M436.5 41v7M861.5 77v1M374.5 66v1M712.5 43v1M791.5 108v2M680.5 20v2M295.5 20v1M845.5 78v2M111.5 110v1M772.5 98v9M823.5 87v4M740.5 43v4M188.5 50v3M188.5 54v1M439.5 61v1M439.5 63v1M941.5 59v2M868.5 84v2M765.5 72v1M852.5 86v2M966.5 71v1M769.5 76v5M370.5 50v6M786.5 121v3M349.5 32v1M360.5 32v1M204.5 39v3M153.5 57v2M633.5 38v1M766.5 73v1M341.5 37v1M750.5 56v1M758.5 68v2M322.5 33v2M310.5 31v1M656.5 48v4M291.5 27v2M810.5 113v1M810.5 116v1M679.5 22v2M573.5 14v1M446.5 59v2M272.5 31v2M428.5 30v3M645.5 38v2M511.5 47v3M751.5 57v1M409.5 28v1M146.5 70v3M618.5 38v3M197.5 28v1M18.5 124v2M110.5 109v1M421.5 20v1M406.5 31v2M705.5 25v2M42.5 109v1M200.5 30v2M993.5 93v1M580.5 19v5M192.5 35v2M30.5 122v7M122.5 109v4M621.5 41v1M706.5 27v3M393.5 41v3M798.5 110v2M675.5 30v1M507.5 36v2M569.5 21v2M775.5 116v2M279.5 37v3M996.5 85v3M496.5 45v2M731.5 38v1M739.5 39v4M894.5 73v3M583.5 32v3M425.5 20v3M488.5 60v1M728.5 32v2M531.5 40v1M257.5 27v3M1000.5 73v3M162.5 57v1M874.5 86v2M802.5 107v1M709.5 35v3M121.5 113v2M438.5 54v7M764.5 71v1M15.5 111v5M659.5 36v4M929.5 58v1M359.5 31v1M867.5 82v2M191.5 37v4M790.5 110v2M242.5 31v1M724.5 34v1M902.5 58v2M412.5 24v1M860.5 78v3M893.5 76v3M757.5 66v2M276.5 28v3M106.5 106v1M974.5 74v1M150.5 58v3M644.5 37v1M226.5 37v3M897.5 65v2M821.5 94v4M980.5 80v4M594.5 26v2M906.5 51v2M22.5 130v1M844.5 77v1M260.5 38v1M77.5 93v1M199.5 28v2M207.5 48v3M367.5 39v1M794.5 103v1M859.5 81v3M442.5 60v1M29.5 129v7M503.5 39v1M935.5 60v1M431.5 32v1M774.5 115v1M369.5 44v6M727.5 31v1M149.5 61v3M298.5 24v3M287.5 33v1M870.5 88v2M248.5 23v2M854.5 89v1M940.5 58v1M647.5 43v3M658.5 40v4M909.5 52v1M866.5 81v1M230.5 29v1M824.5 84v3M973.5 73v1M282.5 39v1M981.5 84v3M670.5 35v1M734.5 38v1M610.5 21v1M742.5 51v4M568.5 23v2M294.5 21v2M366.5 38v1M771.5 90v8M125.5 99v3M347.5 34v1M234.5 26v1M962.5 72v1M537.5 36v1M483.5 65v1M21.5 129v1M738.5 35v1M738.5 37v2M557.5 23v1M837.5 68v1M203.5 37v2M495.5 47v2M785.5 124v3M328.5 29v3M320.5 34v1M843.5 75v2M797.5 108v2M719.5 39v1M789.5 112v2M14.5 107v4M290.5 29v1M939.5 57v1M678.5 24v2M847.5 81v1M271.5 33v2M522.5 52v1M525.5 48v1M813.5 104v3M145.5 73v2M983.5 90v3M494.5 49v3M586.5 36v1M892.5 79v2M75.5 95v1M389.5 52v2M640.5 34v1M579.5 15v4M33.5 106v2M434.5 30v1M434.5 32v2M148.5 64v3M932.5 62v1M582.5 28v4M256.5 24v3M905.5 53v2M916.5 54v1M635.5 41v1M646.5 40v3M540.5 32v1M331.5 37v3M53.5 101v3M708.5 33v2M301.5 34v2M808.5 111v3M392.5 44v2M961.5 71v1M510.5 44v3M741.5 47v4M376.5 64v1M832.5 76v3M801.5 108v2M812.5 107v3M144.5 75v3M793.5 105v1M17.5 120v4M437.5 48v6M164.5 55v1M427.5 27v3M255.5 21v3M388.5 54v3M373.5 67v1M617.5 35v3M920.5 56v1M275.5 26v1M124.5 102v4M704.5 22v3M650.5 52v2M52.5 104v3M796.5 106v2M873.5 88v1M411.5 25v2M44.5 111v1M426.5 23v4M528.5 44v1M87.5 90v2M351.5 30v1M984.5 93v3M372.5 62v5M862.5 78v1M245.5 29v2M938.5 55v1M278.5 34v3M572.5 15v2M930.5 59v2M820.5 98v2M896.5 67v3M206.5 45v3M616.5 31v4M770.5 81v9M324.5 28v3M293.5 23v2M994.5 90v3M931.5 61v1M942.5 61v1M220.5 55v4M408.5 29v1M869.5 86v2M167.5 52v1M190.5 41v5M858.5 84v2M756.5 64v2M634.5 39v2M953.5 66v1M807.5 109v2M452.5 60v3M934.5 61v2M300.5 31v3M613.5 24v2M171.5 49v1M788.5 114v3M380.5 61v1M202.5 35v2M194.5 32v1M139.5 87v2M627.5 36v1M990.5 97v2M919.5 55v1M24.5 133v1M478.5 65v1M208.5 51v2M498.5 43v1M259.5 34v3M597.5 22v2M90.5 95v2M657.5 44v4M811.5 110v3M703.5 19v3M143.5 78v3M649.5 49v3M502.5 40v1M112.5 111v1M857.5 86v3M189.5 46v4M773.5 107v8M159.5 61v2M776.5 118v1M327.5 26v3M297.5 20v4M371.5 56v6M147.5 67v3M10.5 98v2M965.5 72v1M391.5 46v3M662.5 34v1M51.5 107v3M258.5 30v4M777.5 119v1M710.5 38v3M309.5 32v1M361.5 33v1M593.5 28v2M615.5 28v3M800.5 110v2M982.5 87v3M707.5 30v3M911.5 54v2M899.5 62v2M79.5 91v1M638.5 36v2M752.5 58v1M274.5 28v1M123.5 106v3M755.5 62v2M448.5 63v2M338.5 40v1M368.5 40v4M390.5 49v3M975.5 75v1M524.5 49v2M224.5 43v3M85.5 88v1M31.5 115v7M726.5 32v1M937.5 57v1M677.5 26v2M509.5 41v3M86.5 89v1M89.5 94v1M289.5 30v1M16.5 116v4M326.5 24v2M743.5 55v1M743.5 57v1M648.5 46v3M239.5 29v1M672.5 33v1M456.5 54v1M835.5 68v2M792.5 106v2M767.5 74v1M669.5 36v1M539.5 33v2M473.5 61v1M485.5 63v1M246.5 27v2M611.5 22v1M581.5 24v4M482.5 66v1M474.5 62v1M277.5 31v3M330.5 35v2M989.5 99v1M612.5 23v1M215.5 58v1M718.5 40v2M142.5 81v3M596.5 24v1M834.5 70v3M554.5 27v1M814.5 102v2M216.5 59v1M228.5 31v3M201.5 32v3M50.5 110v3M158.5 63v1M323.5 31v2M838.5 69v1M493.5 52v2M219.5 59v2M505.5 36v1M54.5 100v1M410.5 27v1M451.5 63v3M138.5 89v2M223.5 46v3M592.5 30v2M455.5 52v2M849.5 83v1M998.5 79v3M833.5 73v3M227.5 34v3M193.5 33v2M822.5 91v3M779.5 122v1M637.5 38v1M492.5 54v3M992.5 94v2M166.5 53v1M910.5 53v1M9.5 97v1M284.5 36v1M721.5 37v1M155.5 61v2M780.5 123v1M375.5 65v1M641.5 35v1M803.5 105v2M622.5 40v1M754.5 60v2M170.5 50v1M933.5 63v1M222.5 49v3M329.5 32v3M454.5 54v3M806.5 106v3M997.5 82v3M161.5 58v2M667.5 38v1M88.5 92v2M872.5 89v1M967.5 70v1M527.5 45v1M660.5 34v2M311.5 30v1M292.5 25v2M205.5 42v3M921.5 57v1M26.5 135v1M848.5 82v1M210.5 54v1M663.5 35v2M273.5 29v2M348.5 33v1M401.5 36v1M922.5 58v1M211.5 55v1M103.5 104v1M340.5 38v1M114.5 113v1M424.5 19v1M12.5 101v2M4.5 98v1M664.5 37v1M196.5 29v2M561.5 24v1M405.5 33v1M614.5 26v2M591.5 32v3M542.5 29v1M676.5 28v2M19.5 126v2M154.5 59v2M626.5 37v1M49.5 113v2M489.5 59v1M875.5 84v2M325.5 26v2M133.5 95v1M504.5 37v2M450.5 67v1M674.5 31v1M137.5 91v2M487.5 61v1M413.5 23v1M530.5 41v1M453.5 57v3M25.5 134v1M45.5 112v1M457.5 55v2M141.5 85v1M46.5 113v1M898.5 64v1M113.5 112v1M778.5 120v1M458.5 57v1M702.5 18v1M970.5 70v1M8.5 95v1M943.5 62v1M420.5 21v1M11.5 100v1M157.5 65v1M913.5 57v1M362.5 34v1M936.5 58v2M768.5 75v1M999.5 76v3M76.5 94v1M363.5 35v1M249.5 21v2M449.5 65v1M479.5 66v1M636.5 39v2M91.5 97v1M805.5 105v1M317.5 31v1M283.5 37v2M221.5 52v3M286.5 34v1M901.5 60v1M671.5 34v1M746.5 55v1M538.5 35v1M590.5 35v2M484.5 64v1M172.5 48v1M225.5 40v3M381.5 60v1M229.5 30v1M556.5 24v2M720.5 38v1M176.5 51v1M950.5 64v1M595.5 25v1M156.5 63v1M83.5 88v1M782.5 125v1M441.5 61v1M475.5 63v1M160.5 60v1M526.5 47v1M995.5 88v2M632.5 37v1M571.5 17v2M976.5 76v1M885.5 83v1M977.5 77v1M217.5 60v1M541.5 30v2M28.5 138v1M711.5 41v2M628.5 35v1M991.5 96v1M840.5 71v1M233.5 27v1M904.5 55v1M598.5 21v1M850.5 84v1M831.5 79v2M404.5 34v1M665.5 38v1M851.5 85v1M529.5 42v2M749.5 55v1M132.5 96v1M781.5 124v1M263.5 36v1M964.5 74v1M350.5 31v1M839.5 70v1M244.5 31v1M308.5 33v2M41.5 108v1M339.5 39v1M445.5 57v1M109.5 108v1M140.5 86v1M195.5 31v1M730.5 36v2M198.5 27v1M459.5 58v2M407.5 30v1M47.5 114v1M396.5 39v1M639.5 35v1M460.5 60v1M681.5 19v1M923.5 59v1M115.5 114v1M358.5 30v1M570.5 19v2M379.5 62v1M631.5 35v2M619.5 41v1M619.5 43v1M673.5 32v1M136.5 93v1M163.5 56v1M447.5 61v2M486.5 62v1M364.5 36v1M152.5 55v1M365.5 37v1M589.5 38v1M900.5 61v1M422.5 19v1M93.5 99v1M319.5 33v1M986.5 97v1M212.5 56v1M729.5 34v2M78.5 92v1M907.5 50v1M853.5 88v1M971.5 71v1M82.5 89v1M523.5 51v1M908.5 51v1M296.5 18v1M972.5 72v1M578.5 14v1M725.5 33v1M288.5 31v2M784.5 128v1M285.5 35v1M20.5 128v1M978.5 78v1M623.5 39v1M842.5 74v1M100.5 102v1M92.5 98v1M979.5 79v1M722.5 36v1M799.5 112v1M732.5 40v1M555.5 26v1M558.5 22v1M846.5 80v1M795.5 105v1M443.5 59v1M871.5 91v1M151.5 57v1M865.5 80v1M5.5 97v1M960.5 70v1M856.5 89v1M429.5 34v1M783.5 126v1M307.5 35v1M318.5 32v1"/>
<path fill="none" stroke="#ff0000" stroke-width="1" d="M120 385.5h3M928 335.5h12M969 335.5h6M292 304.5h2M335 304.5h4M355 304.5h3M914 340.5h2M984 340.5h3M422 309.5h13M606 309.5h5M31 393.5h2M71 393.5h2M237 314.5h3M375 314.5h2M407 314.5h3M441 314.5h2M557 314.5h4M632 314.5h10M683 314.5h4M711 314.5h7M455 320.5h2M534 320.5h5M745 320.5h3M43 398.5h2M62 398.5h3M386 319.5h10M450 319.5h5M539 319.5h5M655 319.5h3M742 319.5h3M294 303.5h2M305 303.5h5M332 303.5h3M33 394.5h4M69 394.5h2M239 313.5h3M373 313.5h2M410 313.5h2M439 313.5h2M561 313.5h4M623 313.5h9M687 313.5h4M709 313.5h2M795 355.5h2M841 355.5h13M858 355.5h4M876 355.5h12M414 311.5h4M436 311.5h2M569 311.5h5M583 311.5h16M617 311.5h4M232 317.5h2M381 317.5h3M398 317.5h4M547 317.5h3M648 317.5h3M669 317.5h9M732 317.5h5M86 383.5h3M112 383.5h4M125 383.5h3M186 336.5h2M925 336.5h4M975 336.5h3M804 360.5h2M832 360.5h2M940 334.5h5M955 334.5h14M76 390.5h2M226 322.5h2M460 322.5h3M507 322.5h13M524 322.5h7M751 322.5h3M379 316.5h2M402 316.5h3M445 316.5h2M550 316.5h4M645 316.5h3M678 316.5h2M726 316.5h7M813 365.5h5M821 365.5h2M37 395.5h2M67 395.5h2M296 302.5h9M310 302.5h11M328 302.5h4M228 321.5h2M457 321.5h3M530 321.5h4M748 321.5h3M773 333.5h2M944 333.5h11M179 339.5h2M916 339.5h3M982 339.5h2M203 323.5h10M463 323.5h6M504 323.5h3M520 323.5h4M754 323.5h3M198 326.5h2M475 326.5h3M497 326.5h2M764 326.5h4M251 306.5h3M361 306.5h4M861 354.5h16M887 354.5h6M253 305.5h39M339 305.5h16M358 305.5h3M201 324.5h2M213 324.5h3M469 324.5h3M502 324.5h2M757 324.5h4M418 310.5h4M574 310.5h9M598 310.5h8M611 310.5h6M48 401.5h8M183 337.5h3M921 337.5h4M978 337.5h2M802 359.5h3M235 315.5h2M377 315.5h2M405 315.5h2M443 315.5h2M554 315.5h3M642 315.5h3M680 315.5h3M718 315.5h8M161 353.5h2M792 353.5h2M89 382.5h23M128 382.5h4M172 343.5h2M908 343.5h2M995 343.5h6M905 345.5h2M807 362.5h2M828 362.5h4M242 312.5h4M412 312.5h3M565 312.5h4M621 312.5h2M691 312.5h18M45 399.5h2M60 399.5h2M787 350.5h2M897 350.5h2M216 325.5h8M472 325.5h3M499 325.5h3M761 325.5h3M0 363.5h14M825 363.5h3M798 357.5h2M837 357.5h2M481 328.5h12M174 342.5h2M910 342.5h2M989 342.5h6M41 397.5h3M64 397.5h2M384 318.5h2M396 318.5h2M448 318.5h2M543 318.5h4M651 318.5h4M658 318.5h11M737 318.5h5M839 356.5h3M854 356.5h4M248 308.5h2M79 388.5h2M133 380.5h2M176 341.5h2M912 341.5h2M987 341.5h2M818 366.5h3M162 352.5h2M790 352.5h2M894 352.5h2M321 301.5h7M181 338.5h2M918 338.5h3M980 338.5h2M156 358.5h2M800 358.5h2M835 358.5h2M197 327.5h2M478 327.5h3M493 327.5h4M903 346.5h2M81 386.5h2M84 384.5h2M116 384.5h4M123 384.5h2M896 351.5h2M28 392.5h3M73 392.5h2M365 307.5h3M900 348.5h2M39 396.5h2M47 400.5h2M56 400.5h4M139 375.5h2M194 329.5h2M810 364.5h3M823 364.5h2M306.5 304v1M66.5 396v1M20.5 374v2M26.5 386v3M141.5 374v1M151.5 363v1M776.5 336v1M147.5 367v2M777.5 337v2M171.5 344v1M200.5 325v1M246.5 310v1M178.5 340v1M23.5 380v2M169.5 346v1M170.5 345v1M80.5 387v1M13.5 364v1M188.5 335v1M27.5 389v2M768.5 327v1M782.5 344v1M168.5 347v1M155.5 359v1M21.5 376v2M369.5 309v1M154.5 360v1M797.5 356v1M28.5 391v1M769.5 328v1M783.5 345v2M152.5 362v1M160.5 354v1M834.5 359v1M19.5 372v2M771.5 330v1M806.5 361v1M780.5 341v2M247.5 309v1M245.5 311v1M153.5 361v1M772.5 331v1M145.5 370v1M146.5 369v1M781.5 343v1M75.5 391v1M24.5 382v2M250.5 307v1M143.5 372v1M773.5 332v1M144.5 371v1M193.5 330v1M166.5 349v1M132.5 381v1M370.5 310v1M778.5 339v1M164.5 351v1M165.5 350v1M191.5 332v1M789.5 351v1M809.5 363v1M902.5 347v1M150.5 364v1M18.5 370v2M158.5 356v1M25.5 384v2M893.5 353v1M371.5 311v1M189.5 334v1M779.5 340v1M22.5 378v2M231.5 318v1M148.5 366v1M149.5 365v1M372.5 312v1M438.5 312v1M774.5 334v1M15.5 366v2M368.5 308v1M225.5 323v1M167.5 348v1M138.5 376v1M78.5 389v1M83.5 385v1M447.5 317v1M229.5 320v1M224.5 324v1M16.5 368v1M136.5 378v1M794.5 354v1M137.5 377v1M142.5 373v1M192.5 331v1M17.5 369v1M135.5 379v1M786.5 349v1M159.5 355v1M190.5 333v1M196.5 328v1M157.5 357v1M435.5 310v1M770.5 329v1M14.5 365v1M230.5 319v1M775.5 335v1M218.5 326v1M784.5 347v1M907.5 344v1M899.5 349v1M831.5 361v1M234.5 316v1M785.5 348v1"/>
<path fill="none" stroke="#ffff00" stroke-width="1" d="M249 315.5h2M393 315.5h3M416 315.5h3M456 315.5h3M565 315.5h4M648 315.5h5M689 315.5h5M733 315.5h7M254 312.5h2M387 312.5h2M426 312.5h4M448 312.5h3M580 312.5h6M637 312.5h3M707 312.5h13M936 337.5h3M986 337.5h6M15 363.5h3M164 363.5h2M827 363.5h11M399 317.5h13M462 317.5h3M557 317.5h4M661 317.5h11M678 317.5h6M746 317.5h5M930 339.5h3M996 339.5h3M0 362.5h15M823 362.5h4M838 362.5h2M391 314.5h2M419 314.5h4M454 314.5h2M569 314.5h5M644 314.5h4M694 314.5h6M727 314.5h6M816 359.5h2M847 359.5h5M302 303.5h10M333 303.5h19M215 326.5h4M488 326.5h6M507 326.5h4M256 311.5h2M384 311.5h3M430 311.5h18M586 311.5h19M627 311.5h10M240 319.5h4M467 319.5h3M549 319.5h4M755 319.5h4M807 354.5h2M892 354.5h7M272 306.5h12M369 306.5h5M244 318.5h2M465 318.5h2M553 318.5h4M672 318.5h6M751 318.5h4M61 399.5h9M213 327.5h2M494 327.5h13M776 327.5h2M186 343.5h2M921 343.5h3M258 310.5h3M382 310.5h2M604 310.5h23M201 333.5h2M229 323.5h3M478 323.5h3M520 323.5h8M770 323.5h2M179 348.5h2M911 348.5h2M206 330.5h2M252 313.5h2M389 313.5h2M423 313.5h3M451 313.5h3M574 313.5h6M640 313.5h4M700 313.5h8M720 313.5h8M102 384.5h6M91 388.5h2M928 340.5h2M999 340.5h2M234 321.5h3M472 321.5h3M537 321.5h8M763 321.5h3M199 334.5h2M949 334.5h27M861 355.5h32M295 304.5h7M352 304.5h11M802 350.5h2M907 350.5h2M312 302.5h21M247 316.5h2M396 316.5h3M412 316.5h4M459 316.5h3M561 316.5h4M653 316.5h8M684 316.5h5M740 316.5h6M183 345.5h2M917 345.5h2M284 305.5h11M362 305.5h7M108 383.5h23M939 336.5h4M981 336.5h5M237 320.5h3M470 320.5h2M545 320.5h4M759 320.5h4M82 393.5h2M52 396.5h2M77 396.5h2M131 382.5h8M818 360.5h2M843 360.5h4M225 324.5h5M481 324.5h3M515 324.5h5M87 390.5h2M232 322.5h3M475 322.5h3M527 322.5h10M766 322.5h4M96 386.5h3M151 375.5h2M905 351.5h2M812 357.5h2M854 357.5h4M913 347.5h2M54 397.5h3M75 397.5h2M268 307.5h4M374 307.5h3M193 338.5h2M933 338.5h3M992 338.5h4M79 395.5h2M923 342.5h2M263 308.5h5M377 308.5h2M197 335.5h2M786 335.5h2M943 335.5h6M976 335.5h5M139 381.5h3M814 358.5h2M851 358.5h3M820 361.5h3M840 361.5h3M147 377.5h2M89 389.5h2M208 329.5h2M261 309.5h3M379 309.5h3M899 353.5h4M810 356.5h2M858 356.5h4M93 387.5h3M204 331.5h2M781 331.5h2M919 344.5h2M57 398.5h4M70 398.5h5M99 385.5h3M219 325.5h6M484 325.5h4M511 325.5h4M773 325.5h2M915 346.5h2M45 391.5h2M85 391.5h2M18 364.5h2M145 378.5h3M21 366.5h2M161 366.5h2M909 349.5h2M189 341.5h2M925 341.5h3M28 373.5h2M153 373.5h2M142 380.5h2M149 376.5h2M210 328.5h3M903 352.5h2M48 394.5h3M84 392.5h2M20.5 365v1M152.5 374v1M157.5 370v1M158.5 369v1M144.5 379v1M188.5 342v1M156.5 371v1M31.5 375v2M784.5 333v1M192.5 339v1M801.5 349v1M178.5 349v1M797.5 345v1M42.5 387v2M785.5 334v1M191.5 340v1M177.5 350v1M182.5 346v1M43.5 389v1M203.5 332v1M33.5 378v1M809.5 355v1M779.5 329v1M51.5 395v1M23.5 367v1M246.5 317v1M35.5 380v1M168.5 359v2M40.5 385v1M36.5 381v1M30.5 374v1M25.5 369v1M32.5 377v1M26.5 370v1M195.5 337v1M778.5 328v1M196.5 336v1M181.5 347v1M176.5 351v1M27.5 371v1M37.5 382v1M772.5 324v1M790.5 338v1M185.5 344v1M47.5 392v1M174.5 353v1M175.5 352v1M38.5 383v1M39.5 384v1M173.5 354v1M34.5 379v1M28.5 372v1M780.5 330v1M791.5 339v1M24.5 368v1M172.5 355v1M804.5 351v1M155.5 372v1M162.5 365v1M163.5 364v1M41.5 386v1M788.5 336v1M805.5 352v1M793.5 341v1M81.5 394v1M160.5 367v1M789.5 337v1M806.5 353v1M831.5 364v1M48.5 393v1M795.5 343v1M783.5 332v1M800.5 348v1M796.5 344v1M171.5 356v1M792.5 340v1M167.5 361v1M169.5 358v1M170.5 357v1M166.5 362v1M775.5 326v1M798.5 346v1M251.5 314v1M799.5 347v1M159.5 368v1M794.5 342v1M44.5 390v1"/>
<path fill="none" stroke="#ff0000" stroke-width="1" d="M335 164.5h10M498 164.5h45M795 345.5h2M828 345.5h2M1017 97.5h8M56 274.5h3M370 299.5h30M705 299.5h2M734 299.5h2M760 312.5h20M325 163.5h10M453 163.5h45M957 354.5h4M972 354.5h5M580 469.5h10M857 224.5h9M340 298.5h30M707 298.5h3M731 298.5h3M550 305.5h30M920 47.5h2M959 47.5h2M793 346.5h2M830 346.5h2M720 43.5h2M928 43.5h4M949 43.5h4M802 342.5h4M819 342.5h4M145 243.5h3M568 11.5h37M111 119.5h4M860 119.5h8M954 531.5h10M784 538.5h165M756 212.5h5M771 212.5h5M972 212.5h10M23 142.5h4M818 228.5h10M342 498.5h9M750 173.5h2M780 173.5h2M799 343.5h3M823 343.5h3M73 129.5h4M789 129.5h7M726 455.5h11M528 474.5h10M766 474.5h2M780 474.5h2M153 108.5h4M939 108.5h7M315 162.5h10M408 162.5h45M749 209.5h2M781 209.5h2M1001 209.5h10M954 353.5h3M977 353.5h3M286 159.5h10M298 503.5h9M950 503.5h3M965 503.5h3M520 304.5h30M746 207.5h2M784 207.5h2M988 347.5h2M400 300.5h30M703 300.5h2M736 300.5h2M670 309.5h30M531 10.5h37M444 482.5h11M102 258.5h3M164 105.5h4M960 105.5h7M126 115.5h4M889 115.5h7M580 306.5h30M494 9.5h37M949 539.5h83M141 111.5h4M917 111.5h8M98 599.5h5M367 508.5h2M84 126.5h4M810 126.5h8M674 460.5h11M762 42.5h2M932 42.5h17M434 483.5h10M705 457.5h11M49 404.5h4M915 218.5h9M119 117.5h3M875 117.5h7M737 37.5h12M789 17.5h27M924 78.5h3M954 78.5h3M642 13.5h36M752 16.5h37M1025 96.5h7M75 398.5h4M114 389.5h4M737 333.5h2M730 311.5h30M605 12.5h37M758 170.5h16M590 468.5h11M130 114.5h4M896 114.5h7M90 262.5h3M700 310.5h30M157 107.5h3M946 107.5h7M364 167.5h10M633 167.5h45M140 383.5h5M36 407.5h4M285 505.5h4M373 505.5h10M828 227.5h10M351 497.5h9M768 497.5h12M737 454.5h10M922 46.5h2M957 46.5h2M305 161.5h10M394 161.5h14M85 264.5h3M949 351.5h2M982 351.5h2M62 401.5h4M101 392.5h4M316 501.5h9M474 501.5h3M485 501.5h3M92 124.5h4M825 124.5h7M695 458.5h10M951 352.5h3M980 352.5h2M134 113.5h4M903 113.5h7M710 337.5h5M726 337.5h4M496 477.5h11M172 103.5h4M975 103.5h7M761 213.5h10M963 213.5h9M956 315.5h4M974 315.5h4M127 386.5h5M47 277.5h3M126 605.5h5M280 296.5h30M714 296.5h13M371 529.5h3M383 529.5h3M948 529.5h2M968 529.5h2M325 500.5h8M477 500.5h8M806 341.5h13M486 478.5h10M310 297.5h30M710 297.5h4M727 297.5h4M490 303.5h30M740 303.5h2M643 463.5h10M934 81.5h13M136 246.5h3M460 302.5h30M88 125.5h4M818 125.5h7M47 588.5h4M88 395.5h4M296 160.5h9M80 127.5h4M803 127.5h7M986 320.5h2M131 248.5h3M472 524.5h2M488 524.5h2M369 495.5h5M764 495.5h2M782 495.5h2M559 471.5h11M765 44.5h2M926 44.5h2M953 44.5h2M754 171.5h4M774 171.5h4M715 15.5h37M549 472.5h10M69 130.5h4M782 130.5h7M475 479.5h11M140 608.5h5M735 75.5h15M179 374.5h5M88 263.5h2M924 45.5h2M955 45.5h2M119 252.5h3M145 609.5h4M23 583.5h5M465 480.5h10M96 123.5h4M832 123.5h7M32 408.5h4M58 133.5h3M75 594.5h4M307 502.5h9M472 502.5h2M488 502.5h2M953 502.5h12M934 216.5h9M419 485.5h4M374 530.5h9M950 530.5h4M964 530.5h4M653 462.5h11M960 314.5h14M345 165.5h9M543 165.5h45M76 267.5h3M611 466.5h11M886 221.5h9M165 236.5h3M65 131.5h4M779 131.5h3M39 280.5h2M46 136.5h4M42 587.5h5M176 102.5h3M982 102.5h7M33 282.5h3M799 230.5h10M93 598.5h5M122 251.5h3M100 122.5h3M839 122.5h7M154 240.5h3M35 139.5h4M79 595.5h5M622 465.5h10M943 215.5h10M707 336.5h3M730 336.5h3M77 128.5h3M796 128.5h7M640 308.5h30M354 166.5h10M588 166.5h45M895 220.5h10M961 355.5h11M111 255.5h2M728 39.5h3M754 39.5h3M1010 98.5h7M797 344.5h2M826 344.5h2M1003 99.5h7M758 452.5h7M374 168.5h5M678 168.5h45M838 226.5h9M333 499.5h9M289 504.5h9M947 504.5h3M968 504.5h3M67 270.5h3M745 176.5h2M785 176.5h2M370 506.5h3M383 506.5h3M944 506.5h2M972 506.5h2M184 373.5h5M157 239.5h3M153 380.5h5M799 380.5h3M823 380.5h3M145 382.5h4M807 382.5h11M168 104.5h4M967 104.5h8M151 241.5h3M949 318.5h2M983 318.5h2M24 285.5h3M135 607.5h5M610 307.5h30M70 593.5h5M132 385.5h4M731 74.5h4M750 74.5h5M918 74.5h2M961 74.5h2M121 604.5h5M809 229.5h9M946 349.5h2M678 14.5h37M41 279.5h3M716 456.5h10M984 350.5h2M705 335.5h2M733 335.5h2M107 120.5h4M853 120.5h7M474 525.5h4M484 525.5h4M122 116.5h4M882 116.5h7M866 223.5h10M430 301.5h30M701 301.5h2M507 476.5h10M142 244.5h3M685 459.5h10M455 481.5h10M44 278.5h3M1011 208.5h4M924 217.5h10M715 338.5h11M149 381.5h4M802 381.5h5M818 381.5h5M103 121.5h4M846 121.5h7M89 597.5h4M40 406.5h5M747 453.5h11M953 316.5h3M978 316.5h3M423 484.5h11M387 527.5h2M944 527.5h2M972 527.5h2M723 71.5h2M760 71.5h2M54 134.5h4M753 211.5h3M776 211.5h3M982 211.5h10M117 603.5h4M601 467.5h10M53 403.5h5M478 526.5h6M145 110.5h4M925 110.5h7M951 317.5h2M981 317.5h2M360 496.5h9M766 496.5h2M780 496.5h2M517 475.5h11M764 475.5h2M782 475.5h2M42 137.5h4M947 319.5h2M996 100.5h7M62 272.5h2M953 214.5h10M989 101.5h7M664 461.5h10M115 118.5h4M868 118.5h7M727 73.5h4M755 73.5h3M700 332.5h2M65 592.5h5M721 70.5h2M762 70.5h2M108 256.5h3M847 225.5h10M149 109.5h4M932 109.5h7M50 135.5h4M752 172.5h2M778 172.5h2M632 464.5h11M39 138.5h3M160 106.5h4M953 106.5h7M538 473.5h11M768 473.5h12M138 112.5h3M910 112.5h7M84 596.5h5M53 275.5h3M14 581.5h5M19 582.5h4M369 528.5h2M946 528.5h2M970 528.5h2M123 387.5h4M723 41.5h2M760 41.5h2M175 375.5h4M110 390.5h4M136 384.5h4M71 399.5h4M703 334.5h2M735 334.5h2M97 393.5h4M162 378.5h4M795 378.5h2M828 378.5h2M112 602.5h5M58 402.5h4M84 396.5h4M876 222.5h10M30 283.5h3M131 606.5h4M79 266.5h3M718 68.5h2M73 268.5h3M764 69.5h2M162 237.5h3M51 589.5h5M64 271.5h3M31 140.5h4M725 40.5h3M757 40.5h3M20 143.5h3M0 578.5h5M751 210.5h2M779 210.5h2M992 210.5h9M905 219.5h10M386 507.5h2M166 377.5h5M793 377.5h2M830 377.5h2M139 245.5h3M61 591.5h4M748 174.5h2M782 174.5h2M171 376.5h4M927 79.5h2M952 79.5h2M9 580.5h5M725 72.5h2M758 72.5h2M158 379.5h4M797 379.5h2M826 379.5h2M128 249.5h3M107 601.5h5M160 238.5h2M148 242.5h3M27 141.5h4M731 38.5h6M749 38.5h5M105 257.5h3M18 144.5h2M1032 95.5h5M570 470.5h10M50 276.5h3M92 394.5h5M118 388.5h5M96 260.5h3M79 397.5h5M105 391.5h5M492 8.5h2M66 400.5h5M61 132.5h4M929 80.5h5M947 80.5h5M70 269.5h3M103 600.5h4M37 586.5h5M125 250.5h3M116 253.5h3M56 590.5h5M36 281.5h3M33 585.5h4M82 265.5h3M45 405.5h4M27 284.5h3M28 584.5h5M93 261.5h3M113 254.5h3M59 273.5h3M280 158.5h6M29 409.5h3M922 77.5h2M957 77.5h2M5 579.5h4M99 259.5h3M149 610.5h4M134 247.5h2M747.5 175v1M747.5 312v11M770.5 48v2M770.5 63v2M938.5 331v7M938.5 514v6M392.5 513v2M392.5 520v3M697.5 305v1M697.5 329v1M743.5 178v1M743.5 204v1M743.5 305v2M743.5 328v1M365.5 510v2M365.5 524v1M993.5 327v2M993.5 340v2M944.5 322v1M944.5 347v1M693.5 310v3M693.5 322v2M713.5 51v2M713.5 60v3M784.5 175v1M784.5 358v8M784.5 476v1M784.5 494v1M941.5 325v2M941.5 343v2M941.5 509v1M941.5 524v1M840.5 358v8M792.5 184v2M792.5 197v3M792.5 347v1M792.5 376v1M746.5 310v1M746.5 323v2M391.5 511v2M391.5 523v2M918.5 49v1M977.5 510v2M977.5 522v2M740.5 182v2M740.5 200v1M740.5 331v1M837.5 352v1M837.5 371v1M787.5 177v1M787.5 205v1M787.5 352v1M787.5 371v1M787.5 479v2M787.5 490v2M467.5 507v2M467.5 518v2M788.5 178v1M788.5 204v1M788.5 351v1M788.5 372v1M788.5 481v4M788.5 486v4M364.5 512v2M364.5 522v2M939.5 329v2M939.5 338v3M939.5 512v2M939.5 520v2M712.5 53v7M738.5 186v11M738.5 301v1M720.5 69v1M388.5 508v1M769.5 47v1M769.5 65v1M494.5 507v2M494.5 518v2M967.5 55v3M967.5 66v2M992.5 326v1M992.5 342v2M791.5 182v2M791.5 200v1M791.5 348v1M791.5 375v1M836.5 351v1M836.5 372v1M913.5 55v3M913.5 66v2M466.5 509v3M466.5 515v3M772.5 52v9M739.5 184v2M739.5 197v3M739.5 302v1M739.5 332v1M761.5 478v1M761.5 492v1M940.5 327v2M940.5 341v2M940.5 510v2M940.5 522v2M942.5 324v1M942.5 345v1M942.5 508v1M942.5 525v1M386.5 528v1M493.5 506v1M493.5 520v1M832.5 347v1M832.5 376v1M692.5 313v9M390.5 510v1M390.5 525v1M976.5 509v1M976.5 524v1M715.5 48v1M715.5 64v2M786.5 206v1M786.5 353v2M786.5 369v2M786.5 478v1M786.5 492v1M760.5 479v1M760.5 491v1M839.5 355v3M839.5 366v3M719.5 44v1M979.5 514v6M470.5 504v1M470.5 522v1M912.5 58v8M920.5 75v1M790.5 181v1M790.5 201v2M790.5 349v1M790.5 374v1M835.5 350v1M835.5 373v1M987.5 348v1M946.5 320v1M946.5 505v1M745.5 206v1M745.5 308v2M745.5 325v2M363.5 514v8M962.5 49v1M699.5 303v1M699.5 331v1M393.5 515v5M741.5 181v1M741.5 201v2M741.5 330v1M916.5 51v1M916.5 71v2M789.5 179v2M789.5 203v1M789.5 350v1M789.5 373v1M789.5 485v1M975.5 508v1M975.5 525v1M943.5 323v1M943.5 346v1M943.5 507v1M943.5 526v1M961.5 48v1M759.5 480v3M759.5 488v3M742.5 179v2M742.5 203v1M742.5 329v1M988.5 321v1M698.5 304v1M698.5 330v1M994.5 329v11M793.5 186v11M838.5 353v2M838.5 369v2M968.5 58v8M785.5 355v3M785.5 366v3M785.5 477v1M785.5 493v1M978.5 512v2M978.5 520v2M465.5 512v3M964.5 51v1M964.5 71v2M991.5 324v2M991.5 344v1M714.5 49v2M714.5 63v1M758.5 483v5M496.5 512v3M762.5 477v1M762.5 493v1M971.5 505v1M763.5 476v1M763.5 494v1M771.5 50v2M771.5 61v2M469.5 505v1M469.5 521v1M834.5 349v1M834.5 374v1M389.5 509v1M389.5 526v1M366.5 525v1M766.5 68v1M495.5 509v3M495.5 515v3M744.5 177v1M744.5 205v1M744.5 307v1M744.5 327v1M695.5 307v2M695.5 326v2M490.5 503v1M490.5 523v1M914.5 53v2M914.5 68v2M369.5 507v1M915.5 52v1M915.5 70v1M717.5 46v1M717.5 67v1M945.5 321v1M945.5 348v1M959.5 76v1M948.5 350v1M471.5 503v1M471.5 523v1M921.5 76v1M767.5 45v1M767.5 67v1M716.5 47v1M716.5 66v1M694.5 324v2M963.5 50v1M966.5 53v2M966.5 68v2M986.5 349v1M783.5 208v1M989.5 322v1M990.5 323v1M990.5 345v2M833.5 348v1M833.5 375v1M917.5 50v1M768.5 66v1M696.5 306v1M696.5 328v1M492.5 505v1M492.5 521v1M367.5 526v1M985.5 319v1M368.5 527v1M748.5 208v1M700.5 302v1M718.5 45v1M722.5 42v1M965.5 52v1M965.5 70v1M919.5 48v1M764.5 43v1M491.5 504v1M491.5 522v1M23.5 286v1M702.5 333v1M974.5 507v1M974.5 526v1M468.5 506v1M468.5 520v1M960.5 75v1"/>
<rect x="2" y="505" width="1" height="15" fill="#ff0000"/>
<rect x="0.5" y="502.5" width="3" height="2" fill="none" stroke="#ff0000" stroke-width="1"/>
<rect x="8" y="502" width="1" height="7" fill="#ff0000"/>
<rect x="6.5" y="499.5" width="3" height="2" fill="none" stroke="#ff0000" stroke-width="1"/>
<rect x="13" y="501" width="1" height="17" fill="#ff0000"/>
<rect x="11" y="501" width="4" height="9" fill="#ff0000"/>
<rect x="18" y="517" width="1" height="32" fill="#ff0000"/>
<rect x="16" y="517" width="4" height="23" fill="#ff0000"/>
<rect x="24" y="528" width="1" height="35" fill="#ff0000"/>
<rect x="22" y="535" width="4" height="24" fill="#ff0000"/>
<rect x="28" y="551" width="1" height="32" fill="#ff0000"/>
<rect x="26" y="556" width="4" height="22" fill="#ff0000"/>
<rect x="34" y="584" width="1" height="1" fill="#ff0000"/>
<rect x="32.5" y="555.5" width="3" height="28" fill="none" stroke="#ff0000" stroke-width="1"/>
<rect x="38" y="549" width="1" height="12" fill="#ff0000"/>
<rect x="37" y="556" width="3" height="1" fill="#ff0000"/>
<rect x="43" y="551" width="1" height="21" fill="#ff0000"/>
<rect x="41" y="553" width="4" height="13" fill="#ff0000"/>
<rect x="48" y="565" width="1" height="16" fill="#ff0000"/>
<rect x="46" y="567" width="4" height="8" fill="#ff0000"/>
<rect x="54" y="556" width="1" height="6" fill="#ff0000"/>
<rect x="52.5" y="562.5" width="3" height="11" fill="none" stroke="#ff0000" stroke-width="1"/>
<rect x="59" y="559" width="1" height="11" fill="#ff0000"/>
<rect x="58" y="563" width="3" height="1" fill="#ff0000"/>
<rect x="64" y="552" width="1" height="9" fill="#ff0000"/>
<rect x="62" y="557" width="4" height="4" fill="#ff0000"/>
<rect x="69" y="552" width="1" height="7" fill="#ff0000"/>
<rect x="68" y="559" width="3" height="1" fill="#ff0000"/>
<rect x="75" y="559" width="1" height="4" fill="#ff0000"/>
<rect x="73" y="559" width="4" height="4" fill="#ff0000"/>
<rect x="80" y="556" width="1" height="2" fill="#ff0000"/>
<rect x="78.5" y="558.5" width="3" height="3" fill="none" stroke="#ff0000" stroke-width="1"/>
<rect x="85" y="547" width="1" height="8" fill="#ff0000"/>
<rect x="83" y="553" width="4" height="2" fill="#ff0000"/>
<rect x="90" y="557" width="1" height="13" fill="#ff0000"/>
<rect x="88" y="557" width="4" height="9" fill="#ff0000"/>
<rect x="96" y="565" width="1" height="14" fill="#ff0000"/>
<rect x="94" y="565" width="4" height="10" fill="#ff0000"/>
<rect x="100" y="569" width="1" height="8" fill="#ff0000"/>
<rect x="98" y="575" width="4" height="2" fill="#ff0000"/>
<rect x="106" y="577" width="1" height="12" fill="#ff0000"/>
<rect x="104" y="577" width="4" height="4" fill="#ff0000"/>
<rect x="111" y="575" width="1" height="10" fill="#ff0000"/>
<rect x="109" y="580" width="4" height="3" fill="#ff0000"/>
<rect x="116" y="579" width="1" height="20" fill="#ff0000"/>
<rect x="114" y="585" width="4" height="8" fill="#ff0000"/>
<rect x="122" y="590" width="1" height="8" fill="#ff0000"/>
<rect x="120" y="590" width="4" height="4" fill="#ff0000"/>
<rect x="124.5" y="585.5" width="3" height="11" fill="none" stroke="#ff0000" stroke-width="1"/>
<rect x="131" y="581" width="1" height="8" fill="#ff0000"/>
<rect x="130" y="585" width="3" height="1" fill="#ff0000"/>
<rect x="136" y="582" width="1" height="6" fill="#ff0000"/>
<rect x="135" y="583" width="3" height="1" fill="#ff0000"/>
<rect x="141" y="570" width="1" height="6" fill="#008000"/>
<rect x="139.5" y="576.5" width="3" height="4" fill="none" stroke="#008000" stroke-width="1"/>
<rect x="146" y="565" width="1" height="3" fill="#008000"/>
<rect x="146" y="580" width="1" height="5" fill="#008000"/>
<rect x="144.5" y="568.5" width="3" height="11" fill="none" stroke="#008000" stroke-width="1"/>
<rect x="152" y="566" width="1" height="5" fill="#008000"/>
<rect x="150.5" y="558.5" width="3" height="7" fill="none" stroke="#008000" stroke-width="1"/>
<rect x="158" y="556" width="1" height="10" fill="#008000"/>
<rect x="156" y="563" width="4" height="3" fill="#008000"/>
<rect x="162" y="567" width="1" height="4" fill="#008000"/>
<rect x="160.5" y="561.5" width="3" height="5" fill="none" stroke="#008000" stroke-width="1"/>
<rect x="168" y="563" width="1" height="5" fill="#008000"/>
<rect x="166.5" y="558.5" width="3" height="4" fill="none" stroke="#008000" stroke-width="1"/>
<rect x="172" y="549" width="1" height="4" fill="#008000"/>
<rect x="170.5" y="553.5" width="3" height="1" fill="none" stroke="#008000" stroke-width="1"/>
<rect x="177" y="551" width="1" height="8" fill="#008000"/>
<rect x="175" y="553" width="4" height="4" fill="#008000"/>
<rect x="182" y="547" width="1" height="11" fill="#008000"/>
<rect x="181" y="557" width="3" height="1" fill="#008000"/>
<rect x="188" y="551" width="1" height="7" fill="#008000"/>
<rect x="186" y="555" width="4" height="3" fill="#008000"/>
<rect x="192" y="539" width="1" height="4" fill="#008000"/>
<rect x="190.5" y="543.5" width="3" height="8" fill="none" stroke="#008000" stroke-width="1"/>
<rect x="198" y="545" width="1" height="2" fill="#008000"/>
<rect x="196.5" y="536.5" width="3" height="8" fill="none" stroke="#008000" stroke-width="1"/>
<rect x="203" y="536" width="1" height="12" fill="#008000"/>
<rect x="201" y="538" width="4" height="5" fill="#008000"/>
<rect x="208" y="544" width="1" height="12" fill="#ff0000"/>
<rect x="206" y="544" width="4" height="9" fill="#ff0000"/>
<rect x="213" y="548" width="1" height="8" fill="#ff0000"/>
<rect x="212" y="554" width="3" height="1" fill="#ff0000"/>
<rect x="218" y="554" width="1" height="5" fill="#ff0000"/>
<rect x="216" y="557" width="4" height="2" fill="#ff0000"/>
<rect x="224" y="546" width="1" height="3" fill="#008000"/>
<rect x="222.5" y="549.5" width="3" height="10" fill="none" stroke="#008000" stroke-width="1"/>
<rect x="228" y="530" width="1" height="2" fill="#008000"/>
<rect x="226.5" y="532.5" width="3" height="14" fill="none" stroke="#008000" stroke-width="1"/>
<rect x="234" y="525" width="1" height="14" fill="#008000"/>
<rect x="233" y="529" width="3" height="1" fill="#008000"/>
<rect x="239" y="524" width="1" height="11" fill="#008000"/>
<rect x="238" y="528" width="3" height="1" fill="#008000"/>
<rect x="244" y="526" width="1" height="10" fill="#008000"/>
<rect x="242" y="529" width="4" height="2" fill="#008000"/>
<rect x="250" y="536" width="1" height="2" fill="#008000"/>
<rect x="248.5" y="520.5" width="3" height="15" fill="none" stroke="#008000" stroke-width="1"/>
<rect x="255" y="512" width="1" height="10" fill="#008000"/>
<rect x="254" y="519" width="3" height="1" fill="#008000"/>
<rect x="260" y="519" width="1" height="12" fill="#008000"/>
<rect x="258" y="521" width="4" height="9" fill="#008000"/>
<rect x="265" y="518" width="1" height="10" fill="#008000"/>
<rect x="264" y="527" width="3" height="1" fill="#008000"/>
<rect x="270" y="524" width="1" height="3" fill="#008000"/>
<rect x="270" y="530" width="1" height="2" fill="#008000"/>
<rect x="268.5" y="527.5" width="3" height="2" fill="none" stroke="#008000" stroke-width="1"/>
<rect x="275" y="514" width="1" height="5" fill="#008000"/>
<rect x="273.5" y="519.5" width="3" height="7" fill="none" stroke="#008000" stroke-width="1"/>
<rect x="280" y="516" width="1" height="12" fill="#008000"/>
<rect x="278" y="519" width="4" height="9" fill="#008000"/>
<rect x="283.5" y="522.5" width="3" height="4" fill="none" stroke="#008000" stroke-width="1"/>
<rect x="290" y="511" width="1" height="5" fill="#008000"/>
<rect x="290" y="520" width="1" height="2" fill="#008000"/>
<rect x="288.5" y="516.5" width="3" height="3" fill="none" stroke="#008000" stroke-width="1"/>
<rect x="294.5" y="505.5" width="3" height="10" fill="none" stroke="#008000" stroke-width="1"/>
<rect x="301" y="506" width="1" height="12" fill="#008000"/>
<rect x="299" y="506" width="4" height="10" fill="#008000"/>
<rect x="306" y="512" width="1" height="4" fill="#008000"/>
<rect x="306" y="519" width="1" height="4" fill="#008000"/>
<rect x="304.5" y="516.5" width="3" height="2" fill="none" stroke="#008000" stroke-width="1"/>
<rect x="311" y="506" width="1" height="3" fill="#008000"/>
<rect x="309.5" y="509.5" width="3" height="3" fill="none" stroke="#008000" stroke-width="1"/>
<rect x="316" y="501" width="1" height="11" fill="#008000"/>
<rect x="314" y="504" width="4" height="6" fill="#008000"/>
<rect x="321" y="504" width="1" height="15" fill="#008000"/>
<rect x="319" y="507" width="4" height="6" fill="#008000"/>
<rect x="324.5" y="502.5" width="3" height="8" fill="none" stroke="#008000" stroke-width="1"/>
<rect x="331" y="501" width="1" height="12" fill="#008000"/>
<rect x="329" y="503" width="4" height="8" fill="#008000"/>
<rect x="337" y="508" width="1" height="5" fill="#008000"/>
<rect x="335" y="508" width="4" height="5" fill="#008000"/>
<rect x="339.5" y="508.5" width="3" height="4" fill="none" stroke="#008000" stroke-width="1"/>
<rect x="348" y="504" width="1" height="3" fill="#008000"/>
<rect x="346" y="505" width="4" height="2" fill="#008000"/>
<rect x="352" y="500" width="1" height="2" fill="#008000"/>
<rect x="350.5" y="502.5" width="3" height="3" fill="none" stroke="#008000" stroke-width="1"/>
<rect x="358" y="500" width="1" height="2" fill="#008000"/>
<rect x="356" y="500" width="4" height="2" fill="#008000"/>
<rect x="362" y="498" width="1" height="7" fill="#008000"/>
<rect x="360" y="502" width="4" height="3" fill="#008000"/>
<rect x="368" y="504" width="1" height="5" fill="#ff0000"/>
<rect x="366" y="504" width="4" height="3" fill="#ff0000"/>
<rect x="373" y="507" width="1" height="16" fill="#ff0000"/>
<rect x="371" y="509" width="4" height="14" fill="#ff0000"/>
<rect x="378" y="519" width="1" height="7" fill="#ff0000"/>
<rect x="377" y="520" width="3" height="1" fill="#ff0000"/>
<rect x="383" y="515" width="1" height="2" fill="#ff0000"/>
<rect x="381.5" y="517.5" width="3" height="2" fill="none" stroke="#ff0000" stroke-width="1"/>
<rect x="388" y="516" width="1" height="8" fill="#ff0000"/>
<rect x="386" y="516" width="4" height="2" fill="#ff0000"/>
<rect x="392.5" y="507.5" width="3" height="8" fill="none" stroke="#008000" stroke-width="1"/>
<rect x="399" y="501" width="1" height="1" fill="#008000"/>
<rect x="399" y="505" width="1" height="2" fill="#008000"/>
<rect x="397.5" y="502.5" width="3" height="2" fill="none" stroke="#008000" stroke-width="1"/>
<rect x="404" y="498" width="1" height="2" fill="#008000"/>
<rect x="404" y="503" width="1" height="2" fill="#008000"/>
<rect x="402.5" y="500.5" width="3" height="2" fill="none" stroke="#008000" stroke-width="1"/>
<rect x="409" y="502" width="1" height="2" fill="#008000"/>
<rect x="407.5" y="498.5" width="3" height="3" fill="none" stroke="#008000" stroke-width="1"/>
<rect x="412.5" y="492.5" width="3" height="4" fill="none" stroke="#008000" stroke-width="1"/>
<rect x="419" y="490" width="1" height="5" fill="#008000"/>
<rect x="418" y="492" width="3" height="1" fill="#008000"/>
<rect x="424" y="486" width="1" height="3" fill="#008000"/>
<rect x="422.5" y="489.5" width="3" height="2" fill="none" stroke="#008000" stroke-width="1"/>
<rect x="430" y="488" width="1" height="9" fill="#008000"/>
<rect x="428" y="493" width="4" height="3" fill="#008000"/>
<rect x="434" y="490" width="1" height="9" fill="#008000"/>
<rect x="433" y="493" width="3" height="1" fill="#008000"/>
<rect x="439" y="491" width="1" height="20" fill="#ff0000"/>
<rect x="437" y="491" width="4" height="20" fill="#ff0000"/>
<rect x="445" y="497" width="1" height="10" fill="#ff0000"/>
<rect x="443" y="504" width="4" height="3" fill="#ff0000"/>
<rect x="450" y="502" width="1" height="15" fill="#ff0000"/>
<rect x="448" y="508" width="4" height="5" fill="#ff0000"/>
<rect x="455" y="512" width="1" height="5" fill="#ff0000"/>
<rect x="453.5" y="502.5" width="3" height="9" fill="none" stroke="#ff0000" stroke-width="1"/>
<rect x="460" y="502" width="1" height="7" fill="#ff0000"/>
<rect x="458" y="504" width="4" height="5" fill="#ff0000"/>
<rect x="466" y="505" width="1" height="2" fill="#ff0000"/>
<rect x="464.5" y="507.5" width="3" height="5" fill="none" stroke="#ff0000" stroke-width="1"/>
<rect x="470" y="504" width="1" height="6" fill="#ff0000"/>
<rect x="468" y="506" width="4" height="2" fill="#ff0000"/>
<rect x="476" y="504" width="1" height="10" fill="#ff0000"/>
<rect x="474" y="506" width="4" height="4" fill="#ff0000"/>
<rect x="480" y="510" width="1" height="9" fill="#ff0000"/>
<rect x="478" y="510" width="4" height="3" fill="#ff0000"/>
<rect x="486" y="509" width="1" height="1" fill="#ff0000"/>
<rect x="484.5" y="510.5" width="3" height="2" fill="none" stroke="#ff0000" stroke-width="1"/>
<rect x="490.5" y="505.5" width="3" height="4" fill="none" stroke="#008000" stroke-width="1"/>
<rect x="495.5" y="500.5" width="3" height="7" fill="none" stroke="#008000" stroke-width="1"/>
<rect x="502" y="496" width="1" height="5" fill="#008000"/>
<rect x="501" y="498" width="3" height="1" fill="#008000"/>
<rect x="504.5" y="492.5" width="3" height="4" fill="none" stroke="#008000" stroke-width="1"/>
<rect x="512" y="492" width="1" height="9" fill="#008000"/>
<rect x="510" y="492" width="4" height="9" fill="#008000"/>
<rect x="516" y="497" width="1" height="6" fill="#008000"/>
<rect x="515" y="501" width="3" height="1" fill="#008000"/>
<rect x="522" y="500" width="1" height="6" fill="#008000"/>
<rect x="521" y="502" width="3" height="1" fill="#008000"/>
<rect x="527" y="502" width="1" height="6" fill="#008000"/>
<rect x="525.5" y="499.5" width="3" height="2" fill="none" stroke="#008000" stroke-width="1"/>
<rect x="530.5" y="494.5" width="3" height="4" fill="none" stroke="#008000" stroke-width="1"/>
<rect x="537" y="491" width="1" height="3" fill="#008000"/>
<rect x="535" y="491" width="4" height="3" fill="#008000"/>
<rect x="540.5" y="487.5" width="3" height="6" fill="none" stroke="#008000" stroke-width="1"/>
<rect x="548" y="485" width="1" height="5" fill="#008000"/>
<rect x="547" y="487" width="3" height="1" fill="#008000"/>
<rect x="553" y="480" width="1" height="8" fill="#008000"/>
<rect x="552" y="487" width="3" height="1" fill="#008000"/>
<rect x="558" y="479" width="1" height="4" fill="#008000"/>
<rect x="556.5" y="483.5" width="3" height="3" fill="none" stroke="#008000" stroke-width="1"/>
<rect x="563" y="481" width="1" height="7" fill="#008000"/>
<rect x="562" y="484" width="3" height="1" fill="#008000"/>
<rect x="568" y="482" width="1" height="5" fill="#008000"/>
<rect x="567" y="483" width="3" height="1" fill="#008000"/>
<rect x="571.5" y="476.5" width="3" height="5" fill="none" stroke="#008000" stroke-width="1"/>
<rect x="578" y="473" width="1" height="8" fill="#008000"/>
<rect x="576" y="475" width="4" height="1" fill="#008000"/>
<rect x="583" y="475" width="1" height="8" fill="#008000"/>
<rect x="581" y="475" width="4" height="8" fill="#008000"/>
<rect x="589" y="482" width="1" height="5" fill="#008000"/>
<rect x="588" y="484" width="3" height="1" fill="#008000"/>
<rect x="594" y="485" width="1" height="2" fill="#008000"/>
<rect x="592.5" y="479.5" width="3" height="5" fill="none" stroke="#008000" stroke-width="1"/>
<rect x="599" y="471" width="1" height="2" fill="#008000"/>
<rect x="597.5" y="473.5" width="3" height="4" fill="none" stroke="#008000" stroke-width="1"/>
<rect x="604" y="471" width="1" height="4" fill="#008000"/>
<rect x="602" y="472" width="4" height="2" fill="#008000"/>
<rect x="609" y="472" width="1" height="4" fill="#008000"/>
<rect x="608" y="474" width="3" height="1" fill="#008000"/>
<rect x="614" y="473" width="1" height="2" fill="#008000"/>
<rect x="612" y="473" width="4" height="2" fill="#008000"/>
<rect x="620" y="471" width="1" height="10" fill="#ff0000"/>
<rect x="618" y="475" width="4" height="6" fill="#ff0000"/>
<rect x="624" y="482" width="1" height="3" fill="#ff0000"/>
<rect x="622.5" y="478.5" width="3" height="3" fill="none" stroke="#ff0000" stroke-width="1"/>
<rect x="630" y="469" width="1" height="7" fill="#008000"/>
<rect x="628.5" y="476.5" width="3" height="1" fill="none" stroke="#008000" stroke-width="1"/>
<rect x="635" y="476" width="1" height="3" fill="#008000"/>
<rect x="633" y="476" width="4" height="2" fill="#008000"/>
<rect x="640" y="473" width="1" height="2" fill="#008000"/>
<rect x="640" y="481" width="1" height="1" fill="#008000"/>
<rect x="638.5" y="475.5" width="3" height="5" fill="none" stroke="#008000" stroke-width="1"/>
<rect x="646" y="475" width="1" height="4" fill="#008000"/>
<rect x="644" y="475" width="4" height="1" fill="#008000"/>
<rect x="650" y="475" width="1" height="10" fill="#ff0000"/>
<rect x="648" y="475" width="4" height="8" fill="#ff0000"/>
<rect x="656" y="480" width="1" height="5" fill="#ff0000"/>
<rect x="655" y="481" width="3" height="1" fill="#ff0000"/>
<rect x="658.5" y="471.5" width="3" height="9" fill="none" stroke="#008000" stroke-width="1"/>
<rect x="666" y="469" width="1" height="8" fill="#008000"/>
<rect x="664" y="473" width="4" height="1" fill="#008000"/>
<rect x="670" y="476" width="1" height="3" fill="#008000"/>
<rect x="668.5" y="473.5" width="3" height="2" fill="none" stroke="#008000" stroke-width="1"/>
<rect x="676" y="472" width="1" height="3" fill="#008000"/>
<rect x="674.5" y="469.5" width="3" height="2" fill="none" stroke="#008000" stroke-width="1"/>
<rect x="679.5" y="463.5" width="3" height="7" fill="none" stroke="#008000" stroke-width="1"/>
<rect x="686" y="458" width="1" height="3" fill="#008000"/>
<rect x="684.5" y="461.5" width="3" height="1" fill="none" stroke="#008000" stroke-width="1"/>
<rect x="692" y="459" width="1" height="5" fill="#008000"/>
<rect x="691" y="461" width="3" height="1" fill="#008000"/>
<rect x="697" y="459" width="1" height="6" fill="#008000"/>
<rect x="696" y="461" width="3" height="1" fill="#008000"/>
<rect x="702" y="459" width="1" height="2" fill="#008000"/>
<rect x="700" y="459" width="4" height="2" fill="#008000"/>
<rect x="708" y="460" width="1" height="5" fill="#008000"/>
<rect x="706" y="460" width="4" height="5" fill="#008000"/>
<rect x="712" y="464" width="1" height="5" fill="#ff0000"/>
<rect x="710" y="464" width="4" height="5" fill="#ff0000"/>
<rect x="717" y="465" width="1" height="5" fill="#ff0000"/>
<rect x="715" y="467" width="4" height="3" fill="#ff0000"/>
<rect x="720.5" y="464.5" width="3" height="5" fill="none" stroke="#008000" stroke-width="1"/>
<rect x="727" y="460" width="1" height="4" fill="#008000"/>
<rect x="725" y="462" width="4" height="2" fill="#008000"/>
<rect x="734" y="461" width="1" height="4" fill="#ff0000"/>
<rect x="732" y="463" width="4" height="2" fill="#ff0000"/>
<rect x="736.5" y="463.5" width="3" height="2" fill="none" stroke="#ff0000" stroke-width="1"/>
<rect x="744" y="466" width="1" height="3" fill="#ff0000"/>
<rect x="742" y="466" width="4" height="3" fill="#ff0000"/>
<rect x="748" y="468" width="1" height="6" fill="#ff0000"/>
<rect x="746" y="469" width="4" height="2" fill="#ff0000"/>
<rect x="754" y="468" width="1" height="5" fill="#ff0000"/>
<rect x="752" y="468" width="4" height="3" fill="#ff0000"/>
<rect x="758" y="472" width="1" height="7" fill="#ff0000"/>
<rect x="756" y="472" width="4" height="4" fill="#ff0000"/>
<rect x="764" y="475" width="1" height="6" fill="#ff0000"/>
<rect x="762" y="475" width="4" height="3" fill="#ff0000"/>
<rect x="768" y="476" width="1" height="6" fill="#ff0000"/>
<rect x="767" y="477" width="3" height="1" fill="#ff0000"/>
<rect x="774" y="475" width="1" height="33" fill="#ff0000"/>
<rect x="772" y="475" width="4" height="26" fill="#ff0000"/>
<rect x="778" y="498" width="1" height="31" fill="#ff0000"/>
<rect x="776" y="504" width="4" height="7" fill="#ff0000"/>
<rect x="784" y="505" width="1" height="21" fill="#ff0000"/>
<rect x="782" y="510" width="4" height="8" fill="#ff0000"/>
<rect x="787.5" y="513.5" width="3" height="4" fill="none" stroke="#ff0000" stroke-width="1"/>
<rect x="794" y="501" width="1" height="7" fill="#ff0000"/>
<rect x="792.5" y="508.5" width="3" height="4" fill="none" stroke="#ff0000" stroke-width="1"/>
<rect x="799" y="506" width="1" height="12" fill="#ff0000"/>
<rect x="797" y="514" width="4" height="4" fill="#ff0000"/>
<rect x="804" y="512" width="1" height="2" fill="#ff0000"/>
<rect x="804" y="524" width="1" height="3" fill="#ff0000"/>
<rect x="802.5" y="514.5" width="3" height="9" fill="none" stroke="#ff0000" stroke-width="1"/>
<rect x="810" y="513" width="1" height="25" fill="#ff0000"/>
<rect x="808" y="518" width="4" height="13" fill="#ff0000"/>
<rect x="814" y="520" width="1" height="3" fill="#ff0000"/>
<rect x="812.5" y="523.5" width="3" height="11" fill="none" stroke="#ff0000" stroke-width="1"/>
<rect x="820" y="529" width="1" height="7" fill="#ff0000"/>
<rect x="818.5" y="523.5" width="3" height="5" fill="none" stroke="#ff0000" stroke-width="1"/>
<rect x="824" y="522" width="1" height="2" fill="#008000"/>
<rect x="822.5" y="513.5" width="3" height="8" fill="none" stroke="#008000" stroke-width="1"/>
<rect x="830" y="511" width="1" height="9" fill="#008000"/>
<rect x="829" y="512" width="3" height="1" fill="#008000"/>
<rect x="836" y="502" width="1" height="2" fill="#008000"/>
<rect x="834.5" y="504.5" width="3" height="7" fill="none" stroke="#008000" stroke-width="1"/>
<rect x="841" y="504" width="1" height="9" fill="#008000"/>
<rect x="839" y="506" width="4" height="3" fill="#008000"/>
<rect x="846" y="504" width="1" height="12" fill="#ff0000"/>
<rect x="844" y="509" width="4" height="7" fill="#ff0000"/>
<rect x="851" y="509" width="1" height="11" fill="#ff0000"/>
<rect x="849" y="509" width="4" height="11" fill="#ff0000"/>
<rect x="856" y="520" width="1" height="9" fill="#ff0000"/>
<rect x="854" y="520" width="4" height="6" fill="#ff0000"/>
<rect x="861" y="514" width="1" height="3" fill="#ff0000"/>
<rect x="861" y="524" width="1" height="2" fill="#ff0000"/>
<rect x="859.5" y="517.5" width="3" height="6" fill="none" stroke="#ff0000" stroke-width="1"/>
<rect x="866" y="514" width="1" height="10" fill="#ff0000"/>
<rect x="864" y="516" width="4" height="4" fill="#ff0000"/>
<rect x="872" y="521" width="1" height="8" fill="#ff0000"/>
<rect x="870" y="521" width="4" height="8" fill="#ff0000"/>
<rect x="876" y="531" width="1" height="1" fill="#ff0000"/>
<rect x="874.5" y="525.5" width="3" height="5" fill="none" stroke="#ff0000" stroke-width="1"/>
<rect x="882" y="525" width="1" height="3" fill="#ff0000"/>
<rect x="880" y="525" width="4" height="3" fill="#ff0000"/>
<rect x="887" y="521" width="1" height="7" fill="#ff0000"/>
<rect x="886" y="527" width="3" height="1" fill="#ff0000"/>
<rect x="892" y="524" width="1" height="5" fill="#ff0000"/>
<rect x="891" y="526" width="3" height="1" fill="#ff0000"/>
<rect x="895.5" y="517.5" width="3" height="9" fill="none" stroke="#008000" stroke-width="1"/>
<rect x="902" y="511" width="1" height="2" fill="#008000"/>
<rect x="900.5" y="513.5" width="3" height="3" fill="none" stroke="#008000" stroke-width="1"/>
<rect x="907" y="505" width="1" height="2" fill="#008000"/>
<rect x="905.5" y="507.5" width="3" height="5" fill="none" stroke="#008000" stroke-width="1"/>
<rect x="912" y="506" width="1" height="5" fill="#008000"/>
<rect x="910" y="508" width="4" height="3" fill="#008000"/>
<rect x="915.5" y="509.5" width="3" height="1" fill="none" stroke="#008000" stroke-width="1"/>
<rect x="922" y="507" width="1" height="7" fill="#008000"/>
<rect x="920" y="508" width="4" height="5" fill="#008000"/>
<rect x="926.5" y="511.5" width="3" height="1" fill="none" stroke="#008000" stroke-width="1"/>
<rect x="933" y="513" width="1" height="6" fill="#ff0000"/>
<rect x="931" y="513" width="4" height="3" fill="#ff0000"/>
<rect x="936.5" y="510.5" width="3" height="4" fill="none" stroke="#008000" stroke-width="1"/>
<rect x="944" y="511" width="1" height="8" fill="#008000"/>
<rect x="942" y="511" width="4" height="5" fill="#008000"/>
<rect x="948" y="511" width="1" height="6" fill="#008000"/>
<rect x="947" y="516" width="3" height="1" fill="#008000"/>
<rect x="954" y="514" width="1" height="5" fill="#ff0000"/>
<rect x="952" y="515" width="4" height="3" fill="#ff0000"/>
<rect x="958" y="516" width="1" height="6" fill="#ff0000"/>
<rect x="957" y="517" width="3" height="1" fill="#ff0000"/>
<rect x="964" y="516" width="1" height="6" fill="#ff0000"/>
<rect x="962" y="519" width="4" height="2" fill="#ff0000"/>
<rect x="969" y="521" width="1" height="6" fill="#ff0000"/>
<rect x="967.5" y="518.5" width="3" height="2" fill="none" stroke="#ff0000" stroke-width="1"/>
<rect x="974" y="519" width="1" height="2" fill="#ff0000"/>
<rect x="972" y="519" width="4" height="2" fill="#ff0000"/>
<rect x="979" y="522" width="1" height="5" fill="#ff0000"/>
<rect x="978" y="524" width="3" height="1" fill="#ff0000"/>
<rect x="984" y="525" width="1" height="11" fill="#ff0000"/>
<rect x="982" y="525" width="4" height="11" fill="#ff0000"/>
<rect x="990" y="530" width="1" height="9" fill="#ff0000"/>
<rect x="988" y="532" width="4" height="4" fill="#ff0000"/>
<rect x="995" y="531" width="1" height="5" fill="#ff0000"/>
<rect x="994" y="535" width="3" height="1" fill="#ff0000"/>
<rect x="1000" y="535" width="1" height="1" fill="#008000"/>
<rect x="998.5" y="526.5" width="3" height="8" fill="none" stroke="#008000" stroke-width="1"/>
<line x1="0" y1="574.5" x2="1213" y2="574.5" stroke="#0000ff" stroke-width="1"/>
<path fill="none" stroke="#0000ff" stroke-width="1" d="M179 505.5h4M590 505.5h10M967 505.5h13M146 496.5h3M670 496.5h11M860 496.5h8M153 498.5h3M651 498.5h9M877 498.5h8M283 519.5h63M221 514.5h5M494 514.5h24M122 485.5h2M751 485.5h13M770 485.5h8M190 508.5h5M562 508.5h9M996 508.5h5M175 504.5h4M600 504.5h9M955 504.5h12M134 491.5h2M706 491.5h6M819 491.5h8M127 488.5h2M725 488.5h6M795 488.5h8M183 506.5h4M580 506.5h10M980 506.5h9M156 499.5h4M641 499.5h10M885 499.5h15M149 497.5h4M660 497.5h10M868 497.5h9M113 480.5h3M211 512.5h5M529 512.5h9M195 509.5h6M554 509.5h8M739 486.5h12M778 486.5h9M43 447.5h2M226 515.5h8M429 515.5h65M164 501.5h3M624 501.5h8M914 501.5h15M245 517.5h15M411 517.5h8M206 511.5h5M538 511.5h8M136 492.5h3M699 492.5h7M827 492.5h8M107 477.5h2M160 500.5h4M632 500.5h9M900 500.5h14M144 495.5h2M680 495.5h6M852 495.5h8M234 516.5h11M418 516.5h12M216 513.5h5M518 513.5h11M125 487.5h2M731 487.5h8M787 487.5h8M129 489.5h2M718 489.5h7M803 489.5h8M260 518.5h23M345 518.5h66M171 503.5h4M609 503.5h8M942 503.5h13M47 449.5h2M39 445.5h2M111 479.5h2M33 442.5h2M201 510.5h5M546 510.5h8M35 443.5h2M28 439.5h2M141 494.5h3M686 494.5h7M843 494.5h9M2 429.5h6M167 502.5h4M617 502.5h7M929 502.5h13M100 474.5h2M139 493.5h2M693 493.5h6M835 493.5h8M8 430.5h5M764 484.5h6M187 507.5h3M571 507.5h9M989 507.5h7M131 490.5h3M712 490.5h6M811 490.5h8M23 436.5h2M15 432.5h2M17 433.5h2M19 434.5h2M13 431.5h2M79 465.5h3M75 463.5h2M66 459.5h3M60 456.5h2M102 475.5h2M93 471.5h2M71 461.5h2M95 472.5h2M0 428.5h2M86 468.5h2M119 483.5h2M64 458.5h2M56 454.5h2M97 473.5h3M88 469.5h3M91 470.5h2M82 466.5h2M116 481.5h2M52 452.5h2M45 448.5h2M37 444.5h2M109 478.5h2M30 440.5h2M41 446.5h2M104 476.5h3M26 438.5h2M21 435.5h2M73 462.5h2M77 464.5h2M69 460.5h2M62 457.5h2M54 453.5h2M58 455.5h2M50 451.5h2M84 467.5h2M25.5 437v1M49.5 450v1M124.5 486v1M32.5 441v1M118.5 482v1M121.5 484v1"/>
<rect x="0" y="412" width="1250" height="1" fill="#000"/>
<rect x="1213" y="0" width="1" height="623" fill="#000"/>
<g fill="#000">
<rect x="1214" y="2" width="6" height="1"/>
<rect x="1214" y="3" width="2" height="1"/>
<rect x="1214" y="5" width="2" height="1"/>
<rect x="1214" y="7" width="2" height="1"/>
<rect x="1214" y="9" width="2" height="1"/>
<rect x="1214" y="11" width="2" height="1"/>
<rect x="1214" y="13" width="6" height="1"/>
<rect x="1214" y="15" width="2" height="1"/>
<rect x="1214" y="17" width="2" height="1"/>
<rect x="1214" y="18" width="2" height="1"/>
<rect x="1214" y="20" width="2" height="1"/>
<rect x="1214" y="22" width="2" height="1"/>
<rect x="1214" y="24" width="6" height="1"/>
<rect x="1214" y="26" width="2" height="1"/>
<rect x="1214" y="28" width="2" height="1"/>
<rect x="1214" y="30" width="2" height="1"/>
<rect x="1214" y="31" width="2" height="1"/>
<rect x="1214" y="33" width="2" height="1"/>
<rect x="1214" y="35" width="6" height="1"/>
<rect x="1214" y="37" width="2" height="1"/>
<rect x="1214" y="39" width="2" height="1"/>
<rect x="1214" y="41" width="2" height="1"/>
<rect x="1214" y="43" width="2" height="1"/>
<rect x="1214" y="44" width="2" height="1"/>
<rect x="1214" y="47" width="6" height="1"/>
<rect x="1214" y="48" width="2" height="1"/>
<rect x="1214" y="50" width="2" height="1"/>
<rect x="1214" y="52" width="2" height="1"/>
<rect x="1214" y="54" width="2" height="1"/>
<rect x="1214" y="56" width="2" height="1"/>
<rect x="1214" y="58" width="6" height="1"/>
<rect x="1214" y="60" width="2" height="1"/>
<rect x="1214" y="61" width="2" height="1"/>
<rect x="1214" y="63" width="2" height="1"/>
<rect x="1214" y="65" width="2" height="1"/>
<rect x="1214" y="67" width="2" height="1"/>
<rect x="1214" y="69" width="6" height="1"/>
<rect x="1214" y="71" width="2" height="1"/>
<rect x="1214" y="73" width="2" height="1"/>
<rect x="1214" y="75" width="2" height="1"/>
<rect x="1214" y="76" width="2" height="1"/>
<rect x="1214" y="78" width="2" height="1"/>
<rect x="1214" y="80" width="6" height="1"/>
<rect x="1214" y="82" width="2" height="1"/>
<rect x="1214" y="84" width="2" height="1"/>
<rect x="1214" y="86" width="2" height="1"/>
<rect x="1214" y="88" width="2" height="1"/>
<rect x="1214" y="89" width="2" height="1"/>
<rect x="1214" y="92" width="6" height="1"/>
<rect x="1214" y="93" width="2" height="1"/>
<rect x="1214" y="95" width="2" height="1"/>
<rect x="1214" y="97" width="2" height="1"/>
<rect x="1214" y="99" width="2" height="1"/>
<rect x="1214" y="101" width="2" height="1"/>
<rect x="1214" y="103" width="6" height="1"/>
<rect x="1214" y="105" width="2" height="1"/>
<rect x="1214" y="107" width="2" height="1"/>
<rect x="1214" y="108" width="2" height="1"/>
<rect x="1214" y="110" width="2" height="1"/>
<rect x="1214" y="112" width="2" height="1"/>
<rect x="1214" y="114" width="6" height="1"/>
<rect x="1214" y="116" width="2" height="1"/>
<rect x="1214" y="118" width="2" height="1"/>
<rect x="1214" y="120" width="2" height="1"/>
<rect x="1214" y="121" width="2" height="1"/>
<rect x="1214" y="123" width="2" height="1"/>
<rect x="1214" y="125" width="6" height="1"/>
<rect x="1214" y="127" width="2" height="1"/>
<rect x="1214" y="129" width="2" height="1"/>
<rect x="1214" y="131" width="2" height="1"/>
<rect x="1214" y="133" width="2" height="1"/>
<rect x="1214" y="134" width="2" height="1"/>
<rect x="1214" y="137" width="6" height="1"/>
<rect x="1214" y="138" width="2" height="1"/>
<rect x="1214" y="140" width="2" height="1"/>
<rect x="1214" y="142" width="2" height="1"/>
<rect x="1214" y="144" width="2" height="1"/>
<rect x="1214" y="146" width="2" height="1"/>
<rect x="1214" y="148" width="6" height="1"/>
<rect x="1214" y="0" width="2" height="1"/>
<rect x="1214" y="156" width="6" height="1"/>
<rect x="1214" y="162" width="2" height="1"/>
<rect x="1214" y="167" width="6" height="1"/>
<rect x="1214" y="173" width="2" height="1"/>
<rect x="1214" y="179" width="6" height="1"/>
<rect x="1214" y="184" width="2" height="1"/>
<rect x="1214" y="190" width="6" height="1"/>
<rect x="1214" y="196" width="2" height="1"/>
<rect x="1214" y="201" width="6" height="1"/>
<rect x="1214" y="207" width="2" height="1"/>
<rect x="1214" y="213" width="6" height="1"/>
<rect x="1214" y="219" width="2" height="1"/>
<rect x="1214" y="224" width="6" height="1"/>
<rect x="1214" y="230" width="2" height="1"/>
<rect x="1214" y="236" width="6" height="1"/>
<rect x="1214" y="241" width="2" height="1"/>
<rect x="1214" y="247" width="6" height="1"/>
<rect x="1214" y="253" width="2" height="1"/>
<rect x="1214" y="258" width="6" height="1"/>
<rect x="1214" y="264" width="2" height="1"/>
<rect x="1214" y="270" width="6" height="1"/>
<rect x="1214" y="275" width="2" height="1"/>
<rect x="1214" y="281" width="6" height="1"/>
<rect x="1214" y="287" width="2" height="1"/>
<rect x="1214" y="292" width="6" height="1"/>
<rect x="1214" y="304" width="6" height="1"/>
<rect x="1214" y="307" width="2" height="1"/>
<rect x="1214" y="309" width="2" height="1"/>
<rect x="1214" y="311" width="2" height="1"/>
<rect x="1214" y="313" width="2" height="1"/>
<rect x="1214" y="315" width="2" height="1"/>
<rect x="1214" y="317" width="6" height="1"/>
<rect x="1214" y="319" width="2" height="1"/>
<rect x="1214" y="321" width="2" height="1"/>
<rect x="1214" y="323" width="2" height="1"/>
<rect x="1214" y="326" width="2" height="1"/>
<rect x="1214" y="328" width="2" height="1"/>
<rect x="1214" y="329" width="6" height="1"/>
<rect x="1214" y="331" width="2" height="1"/>
<rect x="1214" y="334" width="2" height="1"/>
<rect x="1214" y="336" width="2" height="1"/>
<rect x="1214" y="338" width="2" height="1"/>
<rect x="1214" y="340" width="2" height="1"/>
<rect x="1214" y="341" width="6" height="1"/>
<rect x="1214" y="344" width="2" height="1"/>
<rect x="1214" y="346" width="2" height="1"/>
<rect x="1214" y="348" width="2" height="1"/>
<rect x="1214" y="350" width="2" height="1"/>
<rect x="1214" y="352" width="2" height="1"/>
<rect x="1214" y="354" width="6" height="1"/>
<rect x="1214" y="356" width="2" height="1"/>
<rect x="1214" y="358" width="2" height="1"/>
<rect x="1214" y="360" width="2" height="1"/>
<rect x="1214" y="363" width="2" height="1"/>
<rect x="1214" y="365" width="2" height="1"/>
<rect x="1214" y="366" width="6" height="1"/>
<rect x="1214" y="368" width="2" height="1"/>
<rect x="1214" y="371" width="2" height="1"/>
<rect x="1214" y="373" width="2" height="1"/>
<rect x="1214" y="375" width="2" height="1"/>
<rect x="1214" y="377" width="2" height="1"/>
<rect x="1214" y="379" width="6" height="1"/>
<rect x="1214" y="381" width="2" height="1"/>
<rect x="1214" y="383" width="2" height="1"/>
<rect x="1214" y="385" width="2" height="1"/>
<rect x="1214" y="387" width="2" height="1"/>
<rect x="1214" y="390" width="2" height="1"/>
<rect x="1214" y="391" width="6" height="1"/>
<rect x="1214" y="393" width="2" height="1"/>
<rect x="1214" y="395" width="2" height="1"/>
<rect x="1214" y="398" width="2" height="1"/>
<rect x="1214" y="400" width="2" height="1"/>
<rect x="1214" y="402" width="2" height="1"/>
<rect x="1214" y="403" width="6" height="1"/>
<rect x="1214" y="406" width="2" height="1"/>
<rect x="1214" y="408" width="2" height="1"/>
<rect x="1214" y="302" width="2" height="1"/>
<rect x="1214" y="300" width="2" height="1"/>
<rect x="1214" y="298" width="2" height="1"/>
<rect x="1214" y="296" width="2" height="1"/>
<rect x="1214" y="452" width="6" height="1"/>
<rect x="1214" y="461" width="2" height="1"/>
<rect x="1214" y="470" width="2" height="1"/>
<rect x="1214" y="478" width="2" height="1"/>
<rect x="1214" y="487" width="2" height="1"/>
<rect x="1214" y="496" width="6" height="1"/>
<rect x="1214" y="504" width="2" height="1"/>
<rect x="1214" y="513" width="2" height="1"/>
<rect x="1214" y="522" width="2" height="1"/>
<rect x="1214" y="530" width="2" height="1"/>
<rect x="1214" y="539" width="6" height="1"/>
<rect x="1214" y="548" width="2" height="1"/>
<rect x="1214" y="557" width="2" height="1"/>
<rect x="1214" y="565" width="2" height="1"/>
<rect x="1214" y="574" width="2" height="1"/>
<rect x="1214" y="583" width="6" height="1"/>
<rect x="1214" y="591" width="2" height="1"/>
<rect x="1214" y="600" width="2" height="1"/>
<rect x="1214" y="609" width="2" height="1"/>
<rect x="1214" y="618" width="2" height="1"/>
<rect x="1214" y="443" width="2" height="1"/>
<rect x="1214" y="435" width="2" height="1"/>
<rect x="1214" y="426" width="2" height="1"/>
<rect x="1214" y="417" width="2" height="1"/>
</g>
<text x="1247" y="17.4" text-anchor="end">70</text>
<text x="1247" y="28.6" text-anchor="end">65</text>
<text x="1247" y="39.9" text-anchor="end">60</text>
<text x="1247" y="51.1" text-anchor="end">55</text>
<text x="1247" y="62.4" text-anchor="end">50</text>
<text x="1247" y="73.7" text-anchor="end">45</text>
<text x="1247" y="84.9" text-anchor="end">40</text>
<text x="1247" y="96.2" text-anchor="end">35</text>
<text x="1247" y="107.4" text-anchor="end">30</text>
<text x="1247" y="118.7" text-anchor="end">25</text>
<text x="1247" y="129.9" text-anchor="end">20</text>
<text x="1247" y="141.2" text-anchor="end">15</text>
<text x="1247" y="160.5" text-anchor="end">300</text>
<text x="1247" y="171.9" text-anchor="end">200</text>
<text x="1247" y="183.2" text-anchor="end">100</text>
<text x="1247" y="194.6" text-anchor="end">0</text>
<text x="1247" y="206.0" text-anchor="end">-100</text>
<text x="1247" y="217.3" text-anchor="end">-200</text>
<text x="1247" y="228.7" text-anchor="end">-300</text>
<text x="1247" y="240.1" text-anchor="end">-400</text>
<text x="1247" y="251.4" text-anchor="end">-500</text>
<text x="1247" y="262.8" text-anchor="end">-600</text>
<text x="1247" y="274.2" text-anchor="end">-700</text>
<text x="1247" y="285.6" text-anchor="end">-800</text>
<text x="1247" y="308.9" text-anchor="end">100</text>
<text x="1247" y="321.2" text-anchor="end">50</text>
<text x="1247" y="333.6" text-anchor="end">0</text>
<text x="1247" y="346.0" text-anchor="end">-50</text>
<text x="1247" y="358.4" text-anchor="end">-100</text>
<text x="1247" y="370.7" text-anchor="end">-150</text>
<text x="1247" y="383.1" text-anchor="end">-200</text>
<text x="1247" y="395.5" text-anchor="end">-250</text>
<text x="1247" y="407.9" text-anchor="end">-300</text>
<text x="1247" y="456.6" text-anchor="end">3000</text>
<text x="1247" y="500.2" text-anchor="end">2500</text>
<text x="1247" y="543.7" text-anchor="end">2000</text>
<text x="1247" y="587.2" text-anchor="end">1500</text>
<rect x="0" y="622" width="1214" height="1" fill="#000"/>
<g fill="#000">
<rect x="2" y="623" width="1" height="4"/>
<rect x="8" y="623" width="1" height="4"/>
<rect x="13" y="623" width="1" height="4"/>
<rect x="18" y="623" width="1" height="4"/>
<rect x="23" y="623" width="1" height="4"/>
<rect x="28" y="623" width="1" height="4"/>
<rect x="33" y="623" width="1" height="4"/>
<rect x="38" y="623" width="1" height="4"/>
<rect x="44" y="623" width="1" height="4"/>
<rect x="49" y="623" width="1" height="4"/>
<rect x="54" y="623" width="1" height="4"/>
<rect x="59" y="623" width="1" height="4"/>
<rect x="64" y="623" width="1" height="4"/>
<rect x="69" y="623" width="1" height="4"/>
<rect x="74" y="623" width="1" height="4"/>
<rect x="80" y="623" width="1" height="4"/>
<rect x="85" y="623" width="1" height="4"/>
<rect x="90" y="623" width="1" height="4"/>
<rect x="95" y="623" width="1" height="4"/>
<rect x="100" y="623" width="1" height="4"/>
<rect x="105" y="623" width="1" height="4"/>
<rect x="110" y="623" width="1" height="4"/>
<rect x="116" y="623" width="1" height="4"/>
<rect x="121" y="623" width="1" height="4"/>
<rect x="126" y="623" width="1" height="4"/>
<rect x="131" y="623" width="1" height="4"/>
<rect x="136" y="623" width="1" height="4"/>
<rect x="141" y="623" width="1" height="4"/>
<rect x="146" y="623" width="1" height="4"/>
<rect x="152" y="623" width="1" height="4"/>
<rect x="157" y="623" width="1" height="4"/>
<rect x="162" y="623" width="1" height="4"/>
<rect x="167" y="623" width="1" height="4"/>
<rect x="172" y="623" width="1" height="4"/>
<rect x="177" y="623" width="1" height="4"/>
<rect x="182" y="623" width="1" height="4"/>
<rect x="188" y="623" width="1" height="4"/>
<rect x="193" y="623" width="1" height="4"/>
<rect x="198" y="623" width="1" height="4"/>
<rect x="203" y="623" width="1" height="4"/>
<rect x="208" y="623" width="1" height="4"/>
<rect x="213" y="623" width="1" height="4"/>
<rect x="218" y="623" width="1" height="4"/>
<rect x="224" y="623" width="1" height="4"/>
<rect x="229" y="623" width="1" height="4"/>
<rect x="234" y="623" width="1" height="4"/>
<rect x="239" y="623" width="1" height="4"/>
<rect x="244" y="623" width="1" height="4"/>
<rect x="249" y="623" width="1" height="4"/>
<rect x="254" y="623" width="1" height="4"/>
<rect x="260" y="623" width="1" height="4"/>
<rect x="265" y="623" width="1" height="4"/>
<rect x="270" y="623" width="1" height="4"/>
<rect x="275" y="623" width="1" height="4"/>
<rect x="280" y="623" width="1" height="4"/>
<rect x="285" y="623" width="1" height="4"/>
<rect x="290" y="623" width="1" height="4"/>
<rect x="296" y="623" width="1" height="4"/>
<rect x="301" y="623" width="1" height="4"/>
<rect x="306" y="623" width="1" height="4"/>
<rect x="311" y="623" width="1" height="4"/>
<rect x="316" y="623" width="1" height="4"/>
<rect x="321" y="623" width="1" height="4"/>
<rect x="326" y="623" width="1" height="4"/>
<rect x="332" y="623" width="1" height="4"/>
<rect x="337" y="623" width="1" height="4"/>
<rect x="342" y="623" width="1" height="4"/>
<rect x="347" y="623" width="1" height="4"/>
<rect x="352" y="623" width="1" height="4"/>
<rect x="357" y="623" width="1" height="4"/>
<rect x="362" y="623" width="1" height="4"/>
<rect x="368" y="623" width="1" height="4"/>
<rect x="373" y="623" width="1" height="4"/>
<rect x="378" y="623" width="1" height="4"/>
<rect x="383" y="623" width="1" height="4"/>
<rect x="388" y="623" width="1" height="4"/>
<rect x="393" y="623" width="1" height="4"/>
<rect x="398" y="623" width="1" height="4"/>
<rect x="404" y="623" width="1" height="4"/>
<rect x="409" y="623" width="1" height="4"/>
<rect x="414" y="623" width="1" height="4"/>
<rect x="419" y="623" width="1" height="4"/>
<rect x="424" y="623" width="1" height="4"/>
<rect x="429" y="623" width="1" height="4"/>
<rect x="434" y="623" width="1" height="4"/>
<rect x="440" y="623" width="1" height="4"/>
<rect x="445" y="623" width="1" height="4"/>
<rect x="450" y="623" width="1" height="4"/>
<rect x="455" y="623" width="1" height="4"/>
<rect x="460" y="623" width="1" height="4"/>
<rect x="465" y="623" width="1" height="4"/>
<rect x="470" y="623" width="1" height="4"/>
<rect x="476" y="623" width="1" height="4"/>
<rect x="481" y="623" width="1" height="4"/>
<rect x="486" y="623" width="1" height="4"/>
<rect x="491" y="623" width="1" height="4"/>
<rect x="496" y="623" width="1" height="4"/>
<rect x="501" y="623" width="1" height="4"/>
<rect x="506" y="623" width="1" height="4"/>
<rect x="512" y="623" width="1" height="4"/>
<rect x="517" y="623" width="1" height="4"/>
<rect x="522" y="623" width="1" height="4"/>
<rect x="527" y="623" width="1" height="4"/>
<rect x="532" y="623" width="1" height="4"/>
<rect x="537" y="623" width="1" height="4"/>
<rect x="542" y="623" width="1" height="4"/>
<rect x="548" y="623" width="1" height="4"/>
<rect x="553" y="623" width="1" height="4"/>
<rect x="558" y="623" width="1" height="4"/>
<rect x="563" y="623" width="1" height="4"/>
<rect x="568" y="623" width="1" height="4"/>
<rect x="573" y="623" width="1" height="4"/>
<rect x="578" y="623" width="1" height="4"/>
<rect x="584" y="623" width="1" height="4"/>
<rect x="589" y="623" width="1" height="4"/>
<rect x="594" y="623" width="1" height="4"/>
<rect x="599" y="623" width="1" height="4"/>
<rect x="604" y="623" width="1" height="4"/>
<rect x="609" y="623" width="1" height="4"/>
<rect x="614" y="623" width="1" height="4"/>
<rect x="620" y="623" width="1" height="4"/>
<rect x="625" y="623" width="1" height="4"/>
<rect x="630" y="623" width="1" height="4"/>
<rect x="635" y="623" width="1" height="4"/>
<rect x="640" y="623" width="1" height="4"/>
<rect x="645" y="623" width="1" height="4"/>
<rect x="650" y="623" width="1" height="4"/>
<rect x="656" y="623" width="1" height="4"/>
<rect x="661" y="623" width="1" height="4"/>
<rect x="666" y="623" width="1" height="4"/>
<rect x="671" y="623" width="1" height="4"/>
<rect x="676" y="623" width="1" height="4"/>
<rect x="681" y="623" width="1" height="4"/>
<rect x="686" y="623" width="1" height="4"/>
<rect x="692" y="623" width="1" height="4"/>
<rect x="697" y="623" width="1" height="4"/>
<rect x="702" y="623" width="1" height="4"/>
<rect x="707" y="623" width="1" height="4"/>
<rect x="712" y="623" width="1" height="4"/>
<rect x="717" y="623" width="1" height="4"/>
<rect x="722" y="623" width="1" height="4"/>
<rect x="728" y="623" width="1" height="4"/>
<rect x="733" y="623" width="1" height="4"/>
<rect x="738" y="623" width="1" height="4"/>
<rect x="743" y="623" width="1" height="4"/>
<rect x="748" y="623" width="1" height="4"/>
<rect x="753" y="623" width="1" height="4"/>
<rect x="758" y="623" width="1" height="4"/>
<rect x="764" y="623" width="1" height="4"/>
<rect x="769" y="623" width="1" height="4"/>
<rect x="774" y="623" width="1" height="4"/>
<rect x="779" y="623" width="1" height="4"/>
<rect x="784" y="623" width="1" height="4"/>
<rect x="789" y="623" width="1" height="4"/>
<rect x="794" y="623" width="1" height="4"/>
<rect x="800" y="623" width="1" height="4"/>
<rect x="805" y="623" width="1" height="4"/>
<rect x="810" y="623" width="1" height="4"/>
<rect x="815" y="623" width="1" height="4"/>
<rect x="820" y="623" width="1" height="4"/>
<rect x="825" y="623" width="1" height="4"/>
<rect x="830" y="623" width="1" height="4"/>
<rect x="836" y="623" width="1" height="4"/>
<rect x="841" y="623" width="1" height="4"/>
<rect x="846" y="623" width="1" height="4"/>
<rect x="851" y="623" width="1" height="4"/>
<rect x="856" y="623" width="1" height="4"/>
<rect x="861" y="623" width="1" height="4"/>
<rect x="866" y="623" width="1" height="4"/>
<rect x="871" y="623" width="1" height="4"/>
<rect x="877" y="623" width="1" height="4"/>
<rect x="882" y="623" width="1" height="4"/>
<rect x="887" y="623" width="1" height="4"/>
<rect x="892" y="623" width="1" height="4"/>
<rect x="897" y="623" width="1" height="4"/>
<rect x="902" y="623" width="1" height="4"/>
<rect x="907" y="623" width="1" height="4"/>
<rect x="913" y="623" width="1" height="4"/>
<rect x="918" y="623" width="1" height="4"/>
<rect x="923" y="623" width="1" height="4"/>
<rect x="928" y="623" width="1" height="4"/>
<rect x="933" y="623" width="1" height="4"/>
<rect x="938" y="623" width="1" height="4"/>
<rect x="943" y="623" width="1" height="4"/>
<rect x="949" y="623" width="1" height="4"/>
<rect x="954" y="623" width="1" height="4"/>
<rect x="959" y="623" width="1" height="4"/>
<rect x="964" y="623" width="1" height="4"/>
<rect x="969" y="623" width="1" height="4"/>
<rect x="974" y="623" width="1" height="4"/>
<rect x="979" y="623" width="1" height="4"/>
<rect x="985" y="623" width="1" height="4"/>
<rect x="990" y="623" width="1" height="4"/>
<rect x="995" y="623" width="1" height="4"/>
<rect x="1000" y="623" width="1" height="4"/>
<rect x="1005" y="623" width="1" height="4"/>
<rect x="1010" y="623" width="1" height="4"/>
<rect x="1015" y="623" width="1" height="4"/>
<rect x="1021" y="623" width="1" height="4"/>
<rect x="1026" y="623" width="1" height="4"/>
<rect x="1031" y="623" width="1" height="4"/>
<rect x="1036" y="623" width="1" height="4"/>
<rect x="1041" y="623" width="1" height="4"/>
<rect x="1046" y="623" width="1" height="4"/>
<rect x="1051" y="623" width="1" height="4"/>
<rect x="1057" y="623" width="1" height="4"/>
<rect x="1062" y="623" width="1" height="4"/>
<rect x="1067" y="623" width="1" height="4"/>
<rect x="1072" y="623" width="1" height="4"/>
<rect x="1077" y="623" width="1" height="4"/>
<rect x="1082" y="623" width="1" height="4"/>
<rect x="1087" y="623" width="1" height="4"/>
<rect x="1093" y="623" width="1" height="4"/>
<rect x="1098" y="623" width="1" height="4"/>
<rect x="1103" y="623" width="1" height="4"/>
<rect x="1108" y="623" width="1" height="4"/>
<rect x="1113" y="623" width="1" height="4"/>
<rect x="1118" y="623" width="1" height="4"/>
<rect x="1123" y="623" width="1" height="4"/>
<rect x="1129" y="623" width="1" height="4"/>
<rect x="1134" y="623" width="1" height="4"/>
<rect x="1139" y="623" width="1" height="4"/>
<rect x="1144" y="623" width="1" height="4"/>
<rect x="1149" y="623" width="1" height="4"/>
<rect x="1154" y="623" width="1" height="4"/>
<rect x="1159" y="623" width="1" height="4"/>
<rect x="1165" y="623" width="1" height="4"/>
<rect x="1170" y="623" width="1" height="4"/>
<rect x="1175" y="623" width="1" height="4"/>
<rect x="1180" y="623" width="1" height="4"/>
<rect x="1185" y="623" width="1" height="4"/>
<rect x="1190" y="623" width="1" height="4"/>
<rect x="1195" y="623" width="1" height="4"/>
<rect x="1201" y="623" width="1" height="4"/>
<rect x="1206" y="623" width="1" height="4"/>
<rect x="1211" y="623" width="1" height="4"/>
<rect x="13" y="623" width="1" height="13"/>
<rect x="38" y="623" width="1" height="13"/>
<rect x="59" y="623" width="1" height="13"/>
<rect x="85" y="623" width="1" height="13"/>
<rect x="106" y="623" width="1" height="13"/>
<rect x="126" y="623" width="1" height="13"/>
<rect x="146" y="623" width="1" height="13"/>
<rect x="172" y="623" width="1" height="13"/>
<rect x="192" y="623" width="1" height="13"/>
<rect x="213" y="623" width="1" height="13"/>
<rect x="239" y="623" width="1" height="13"/>
<rect x="260" y="623" width="1" height="13"/>
<rect x="280" y="623" width="1" height="13"/>
<rect x="306" y="623" width="1" height="13"/>
<rect x="326" y="623" width="1" height="13"/>
<rect x="352" y="623" width="1" height="13"/>
<rect x="373" y="623" width="1" height="13"/>
<rect x="393" y="623" width="1" height="13"/>
<rect x="414" y="623" width="1" height="13"/>
<rect x="439" y="623" width="1" height="13"/>
<rect x="460" y="623" width="1" height="13"/>
<rect x="480" y="623" width="1" height="13"/>
<rect x="506" y="623" width="1" height="13"/>
<rect x="527" y="623" width="1" height="13"/>
<rect x="548" y="623" width="1" height="13"/>
<rect x="573" y="623" width="1" height="13"/>
<rect x="594" y="623" width="1" height="13"/>
<rect x="619" y="623" width="1" height="13"/>
<rect x="640" y="623" width="1" height="13"/>
<rect x="660" y="623" width="1" height="13"/>
<rect x="681" y="623" width="1" height="13"/>
<rect x="707" y="623" width="1" height="13"/>
<rect x="727" y="623" width="1" height="13"/>
<rect x="748" y="623" width="1" height="13"/>
<rect x="773" y="623" width="1" height="13"/>
<rect x="794" y="623" width="1" height="13"/>
<rect x="820" y="623" width="1" height="13"/>
<rect x="841" y="623" width="1" height="13"/>
<rect x="861" y="623" width="1" height="13"/>
<rect x="887" y="623" width="1" height="13"/>
<rect x="907" y="623" width="1" height="13"/>
<rect x="928" y="623" width="1" height="13"/>
<rect x="953" y="623" width="1" height="13"/>
<rect x="974" y="623" width="1" height="13"/>
<rect x="995" y="623" width="1" height="13"/>
<rect x="1020" y="623" width="1" height="13"/>
<rect x="1041" y="623" width="1" height="13"/>
<rect x="1066" y="623" width="1" height="13"/>
<rect x="1087" y="623" width="1" height="13"/>
<rect x="1107" y="623" width="1" height="13"/>
<rect x="1134" y="623" width="1" height="13"/>
<rect x="1154" y="623" width="1" height="13"/>
<rect x="1175" y="623" width="1" height="13"/>
<rect x="1195" y="623" width="1" height="13"/>
</g>
<text x="-6" y="634.6">Sep</text>
<text x="14.3" y="634.6">Oct</text>
<text x="39.3" y="634.6">Nov</text>
<text x="60.3" y="634.6">Dec</text>
<text x="86.3" y="634.6">2009</text>
<text x="127.3" y="634.6">Mar</text>
<text x="147.3" y="634.6">Apr</text>
<text x="173.3" y="634.6">May</text>
<text x="193.3" y="634.6">Jun</text>
<text x="214.3" y="634.6">Jul</text>
<text x="240.3" y="634.6">Aug</text>
<text x="261.3" y="634.6">Sep</text>
<text x="281.3" y="634.6">Oct</text>
<text x="307.3" y="634.6">Nov</text>
<text x="327.3" y="634.6">Dec</text>
<text x="353.3" y="634.6">2010</text>
<text x="394.3" y="634.6">Mar</text>
<text x="415.3" y="634.6">Apr</text>
<text x="440.3" y="634.6">May</text>
<text x="461.3" y="634.6">Jun</text>
<text x="481.3" y="634.6">Jul</text>
<text x="507.3" y="634.6">Aug</text>
<text x="528.3" y="634.6">Sep</text>
<text x="549.3" y="634.6">Oct</text>
<text x="574.3" y="634.6">Nov</text>
<text x="595.3" y="634.6">Dec</text>
<text x="620.3" y="634.6">2011</text>
<text x="661.3" y="634.6">Mar</text>
<text x="682.3" y="634.6">Apr</text>
<text x="708.3" y="634.6">May</text>
<text x="728.3" y="634.6">Jun</text>
<text x="749.3" y="634.6">Jul</text>
<text x="774.3" y="634.6">Aug</text>
<text x="795.3" y="634.6">Sep</text>
<text x="821.3" y="634.6">Oct</text>
<text x="842.3" y="634.6">Nov</text>
<text x="862.3" y="634.6">Dec</text>
<text x="888.3" y="634.6">2012</text>
<text x="929.3" y="634.6">Mar</text>
<text x="954.3" y="634.6">Apr</text>
<text x="975.3" y="634.6">May</text>
<text x="996.3" y="634.6">Jun</text>
<text x="1021.3" y="634.6">Jul</text>
<text x="1042.3" y="634.6">Aug</text>
<text x="1067.3" y="634.6">Sep</text>
<text x="1088.3" y="634.6">Oct</text>
<text x="1108.3" y="634.6">Nov</text>
<text x="1135.3" y="634.6">Dec</text>
<text x="1155.3" y="634.6">2013</text>
<text x="1196.3" y="634.6">Mar</text>
<rect x="438" y="413" width="337" height="11" fill="#fff"/>
<text x="440.6" y="422" textLength="331.6" lengthAdjust="spacing">WIG20 (2065.4500, 2153.8601, 2039.7200, 2153.8601, +82.3201), Dema (2,363.22)</text>
</svg></body></html>
